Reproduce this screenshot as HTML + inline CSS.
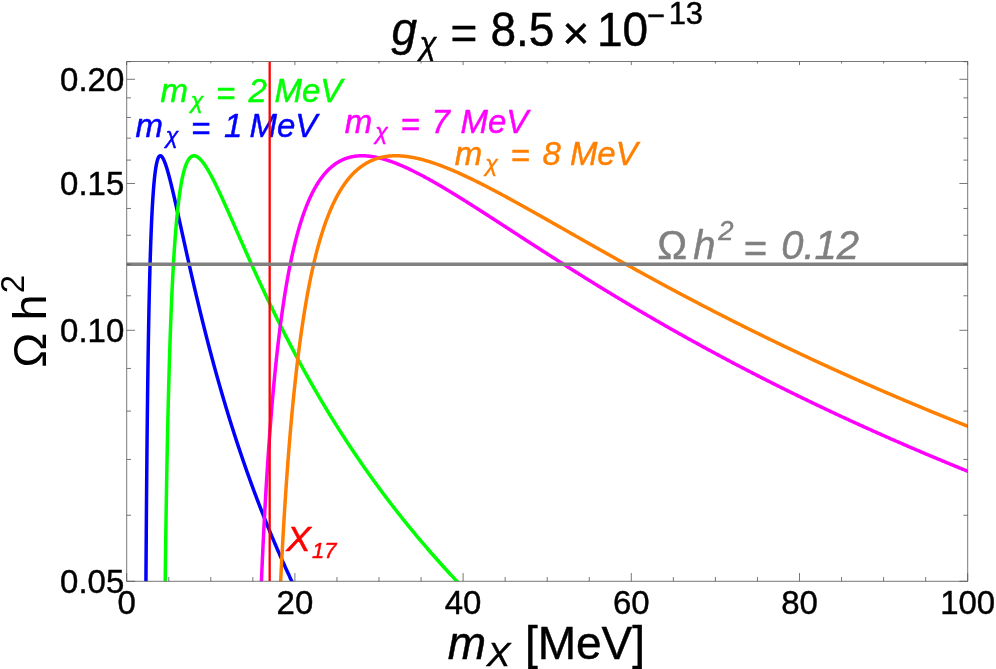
<!DOCTYPE html>
<html><head><meta charset="utf-8"><title>plot</title>
<style>html,body{margin:0;padding:0;background:#fff;overflow:hidden}svg{display:block;will-change:transform}text{font-family:"Liberation Sans",sans-serif;white-space:pre;stroke-width:0.45px;stroke-linejoin:round}</style></head><body>
<svg width="996" height="669" viewBox="0 0 996 669">
<defs><clipPath id="c"><rect x="126.70" y="61.50" width="841.00" height="519.80"/></clipPath></defs>
<g clip-path="url(#c)" fill="none" stroke-linejoin="round" stroke-linecap="butt">
<path d="M145.12 756.02 L145.16 744.94 L145.20 734.04 L145.24 723.32 L145.29 712.78 L145.33 702.40 L145.37 692.20 L145.42 682.16 L145.46 672.29 L145.51 662.58 L145.55 653.02 L145.60 643.62 L145.65 634.37 L145.69 625.27 L145.74 616.32 L145.79 607.51 L145.84 598.84 L145.89 590.31 L145.94 581.91 L145.99 573.65 L146.04 565.53 L146.10 557.53 L146.15 549.66 L146.20 541.92 L146.26 534.30 L146.31 526.80 L146.37 519.42 L146.42 512.16 L146.48 505.01 L146.53 497.98 L146.59 491.06 L146.65 484.26 L146.71 477.56 L146.77 470.97 L146.83 464.48 L146.89 458.10 L146.95 451.83 L147.01 445.65 L147.07 439.57 L147.14 433.60 L147.20 427.71 L147.26 421.93 L147.33 416.24 L147.39 410.64 L147.46 405.13 L147.53 399.71 L147.59 394.38 L147.66 389.14 L147.73 383.99 L147.80 378.92 L147.87 373.93 L147.94 369.03 L148.01 364.21 L148.08 359.47 L148.15 354.81 L148.22 350.23 L148.30 345.72 L148.37 341.29 L148.44 336.94 L148.52 332.66 L148.60 328.45 L148.67 324.32 L148.75 320.26 L148.83 316.26 L148.90 312.34 L148.98 308.49 L149.06 304.70 L149.14 300.98 L149.22 297.33 L149.30 293.74 L149.39 290.21 L149.47 286.75 L149.55 283.35 L149.64 280.02 L149.72 276.74 L149.81 273.52 L149.89 270.37 L149.98 267.27 L150.06 264.23 L150.15 261.24 L150.24 258.31 L150.33 255.44 L150.42 252.62 L150.51 249.86 L150.60 247.15 L150.69 244.50 L150.78 241.89 L150.88 239.34 L150.97 236.83 L151.06 234.38 L151.16 231.98 L151.25 229.62 L151.35 227.32 L151.44 225.06 L151.54 222.85 L151.64 220.68 L151.74 218.56 L151.84 216.49 L151.94 214.46 L152.04 212.48 L152.14 210.53 L152.24 208.64 L152.34 206.78 L152.45 204.96 L152.55 203.19 L152.65 201.46 L152.76 199.77 L152.86 198.12 L152.97 196.50 L153.08 194.93 L153.19 193.39 L153.29 191.90 L153.40 190.43 L153.51 189.01 L153.62 187.62 L153.73 186.27 L153.84 184.96 L153.96 183.68 L154.07 182.43 L154.18 181.22 L154.30 180.04 L154.41 178.89 L154.53 177.78 L154.64 176.70 L154.76 175.65 L154.88 174.64 L155.00 173.65 L155.12 172.70 L155.24 171.78 L155.36 170.88 L155.48 170.02 L155.60 169.18 L155.72 168.38 L155.84 167.60 L155.97 166.85 L156.09 166.13 L156.22 165.44 L156.34 164.77 L156.47 164.13 L156.59 163.51 L156.72 162.93 L156.85 162.36 L156.98 161.83 L157.11 161.32 L157.24 160.83 L157.37 160.37 L157.50 159.93 L157.63 159.52 L157.77 159.12 L157.90 158.76 L158.04 158.41 L158.17 158.09 L158.31 157.79 L158.44 157.51 L158.58 157.26 L158.72 157.02 L158.86 156.81 L159.00 156.61 L159.14 156.44 L159.28 156.29 L159.42 156.16 L159.56 156.05 L159.70 155.95 L159.85 155.88 L159.99 155.83 L160.13 155.79 L160.28 155.77 L160.43 155.78 L160.57 155.80 L160.72 155.83 L160.87 155.89 L161.02 155.96 L161.17 156.05 L161.32 156.16 L161.47 156.28 L161.62 156.42 L161.77 156.57 L161.92 156.75 L162.08 156.93 L162.23 157.14 L162.39 157.35 L162.54 157.59 L162.70 157.84 L162.86 158.10 L163.02 158.38 L163.17 158.67 L163.33 158.98 L163.49 159.30 L163.65 159.63 L163.82 159.98 L163.98 160.34 L164.14 160.72 L164.30 161.10 L164.47 161.50 L164.63 161.92 L164.80 162.34 L164.96 162.78 L165.13 163.23 L165.30 163.69 L165.47 164.17 L165.64 164.65 L165.81 165.15 L165.98 165.66 L166.15 166.18 L166.32 166.71 L166.49 167.25 L166.67 167.80 L166.84 168.37 L167.02 168.94 L167.19 169.52 L167.37 170.12 L167.55 170.72 L167.72 171.34 L167.90 171.96 L168.08 172.59 L168.26 173.24 L168.44 173.89 L168.62 174.55 L168.80 175.22 L168.99 175.90 L169.17 176.59 L169.35 177.29 L169.54 177.99 L169.73 178.71 L169.91 179.43 L170.10 180.16 L170.29 180.90 L170.48 181.64 L170.66 182.40 L170.85 183.16 L171.04 183.93 L171.24 184.71 L171.43 185.49 L171.62 186.28 L171.81 187.08 L172.01 187.89 L172.20 188.70 L172.40 189.52 L172.60 190.35 L172.79 191.18 L172.99 192.02 L173.19 192.87 L173.39 193.72 L173.59 194.58 L173.79 195.45 L173.99 196.32 L174.19 197.19 L174.40 198.08 L174.60 198.97 L174.81 199.86 L175.01 200.76 L175.22 201.67 L175.42 202.58 L175.63 203.50 L175.84 204.42 L176.05 205.35 L176.26 206.28 L176.47 207.22 L176.68 208.16 L176.89 209.11 L177.10 210.06 L177.32 211.02 L177.53 211.98 L177.75 212.94 L177.96 213.91 L178.18 214.89 L178.39 215.87 L178.61 216.85 L178.83 217.84 L179.05 218.83 L179.27 219.83 L179.49 220.83 L179.71 221.83 L179.93 222.84 L180.16 223.85 L180.38 224.87 L180.60 225.89 L180.83 226.91 L181.06 227.94 L181.28 228.97 L181.51 230.00 L181.74 231.04 L181.97 232.08 L182.20 233.12 L182.43 234.17 L182.66 235.22 L182.89 236.27 L183.12 237.33 L183.35 238.39 L183.59 239.45 L183.82 240.51 L184.06 241.58 L184.30 242.65 L184.53 243.73 L184.77 244.80 L185.01 245.88 L185.25 246.96 L185.49 248.05 L185.73 249.13 L185.97 250.22 L186.21 251.31 L186.46 252.40 L186.70 253.50 L186.94 254.60 L187.19 255.70 L187.44 256.80 L187.68 257.90 L187.93 259.01 L188.18 260.12 L188.43 261.23 L188.68 262.34 L188.93 263.46 L189.18 264.57 L189.43 265.69 L189.69 266.81 L189.94 267.93 L190.19 269.06 L190.45 270.18 L190.70 271.31 L190.96 272.44 L191.22 273.56 L191.48 274.70 L191.74 275.83 L192.00 276.96 L192.26 278.10 L192.52 279.24 L192.78 280.37 L193.04 281.51 L193.31 282.66 L193.57 283.80 L193.83 284.94 L194.10 286.09 L194.37 287.23 L194.63 288.38 L194.90 289.53 L195.17 290.68 L195.44 291.83 L195.71 292.98 L195.98 294.13 L196.25 295.28 L196.53 296.44 L196.80 297.59 L197.08 298.75 L197.35 299.90 L197.63 301.06 L197.90 302.22 L198.18 303.38 L198.46 304.54 L198.74 305.70 L199.02 306.86 L199.30 308.02 L199.58 309.19 L199.86 310.35 L200.14 311.51 L200.43 312.68 L200.71 313.84 L201.00 315.01 L201.28 316.17 L201.57 317.34 L201.86 318.51 L202.14 319.67 L202.43 320.84 L202.72 322.01 L203.01 323.18 L203.30 324.35 L203.60 325.52 L203.89 326.69 L204.18 327.86 L204.48 329.03 L204.77 330.20 L205.07 331.37 L205.36 332.54 L205.66 333.71 L205.96 334.88 L206.26 336.05 L206.56 337.22 L206.86 338.40 L207.16 339.57 L207.46 340.74 L207.77 341.91 L208.07 343.08 L208.37 344.26 L208.68 345.43 L208.99 346.60 L209.29 347.77 L209.60 348.94 L209.91 350.12 L210.22 351.29 L210.53 352.46 L210.84 353.63 L211.15 354.80 L211.46 355.98 L211.77 357.15 L212.09 358.32 L212.40 359.49 L212.72 360.66 L213.04 361.83 L213.35 363.00 L213.67 364.17 L213.99 365.34 L214.31 366.51 L214.63 367.68 L214.95 368.85 L215.27 370.02 L215.59 371.19 L215.92 372.36 L216.24 373.53 L216.57 374.70 L216.89 375.86 L217.22 377.03 L217.55 378.20 L217.87 379.37 L218.20 380.53 L218.53 381.70 L218.86 382.86 L219.19 384.03 L219.53 385.20 L219.86 386.36 L220.19 387.52 L220.53 388.69 L220.86 389.85 L221.20 391.01 L221.53 392.18 L221.87 393.34 L222.21 394.50 L222.55 395.66 L222.89 396.82 L223.23 397.98 L223.57 399.14 L223.91 400.30 L224.26 401.46 L224.60 402.61 L224.95 403.77 L225.29 404.93 L225.64 406.08 L225.99 407.24 L226.33 408.39 L226.68 409.55 L227.03 410.70 L227.38 411.86 L227.73 413.01 L228.08 414.16 L228.44 415.31 L228.79 416.46 L229.15 417.61 L229.50 418.76 L229.86 419.91 L230.21 421.06 L230.57 422.21 L230.93 423.35 L231.29 424.50 L231.65 425.65 L232.01 426.79 L232.37 427.93 L232.73 429.08 L233.10 430.22 L233.46 431.36 L233.83 432.50 L234.19 433.64 L234.56 434.78 L234.92 435.92 L235.29 437.06 L235.66 438.20 L236.03 439.34 L236.40 440.47 L236.77 441.61 L237.14 442.74 L237.52 443.88 L237.89 445.01 L238.27 446.14 L238.64 447.27 L239.02 448.40 L239.39 449.53 L239.77 450.66 L240.15 451.79 L240.53 452.92 L240.91 454.04 L241.29 455.17 L241.67 456.30 L242.06 457.42 L242.44 458.54 L242.82 459.67 L243.21 460.79 L243.59 461.91 L243.98 463.03 L244.37 464.15 L244.76 465.27 L245.15 466.39 L245.54 467.50 L245.93 468.62 L246.32 469.73 L246.71 470.85 L247.10 471.96 L247.50 473.07 L247.89 474.19 L248.29 475.30 L248.68 476.41 L249.08 477.52 L249.48 478.62 L249.88 479.73 L250.28 480.84 L250.68 481.94 L251.08 483.05 L251.48 484.15 L251.88 485.25 L252.29 486.36 L252.69 487.46 L253.10 488.56 L253.50 489.66 L253.91 490.76 L254.32 491.85 L254.73 492.95 L255.14 494.05 L255.55 495.14 L255.96 496.23 L256.37 497.33 L256.78 498.42 L257.20 499.51 L257.61 500.60 L258.03 501.69 L258.44 502.78 L258.86 503.87 L259.28 504.95 L259.70 506.04 L260.12 507.12 L260.54 508.21 L260.96 509.29 L261.38 510.37 L261.80 511.45 L262.23 512.53 L262.65 513.61 L263.08 514.69 L263.50 515.77 L263.93 516.84 L264.36 517.92 L264.78 518.99 L265.21 520.07 L265.64 521.14 L266.08 522.21 L266.51 523.28 L266.94 524.35 L267.37 525.42 L267.81 526.49 L268.24 527.56 L268.68 528.62 L269.12 529.69 L269.55 530.75 L269.99 531.81 L270.43 532.88 L270.87 533.94 L271.31 535.00 L271.75 536.06 L272.20 537.11 L272.64 538.17 L273.08 539.23 L273.53 540.28 L273.97 541.34 L274.42 542.39 L274.87 543.44 L275.32 544.50 L275.77 545.55 L276.22 546.60 L276.67 547.64 L277.12 548.69 L277.57 549.74 L278.03 550.78 L278.48 551.83 L278.93 552.87 L279.39 553.92 L279.85 554.96 L280.31 556.00 L280.76 557.04 L281.22 558.08 L281.68 559.12 L282.14 560.15 L282.61 561.19 L283.07 562.22 L283.53 563.26 L284.00 564.29 L284.46 565.32 L284.93 566.36 L285.39 567.39 L285.86 568.42 L286.33 569.44 L286.80 570.47 L287.27 571.50 L287.74 572.52 L288.21 573.55 L288.69 574.57 L289.16 575.59 L289.63 576.62 L290.11 577.64 L290.58 578.66 L291.06 579.67 L291.54 580.69 L292.02 581.71 L292.50 582.73 L292.98 583.74 L293.46 584.75 L293.94 585.77 L294.42 586.78 L294.91 587.79 L295.39 588.80 L295.88 589.81 L296.36 590.82 L296.85 591.82 L297.34 592.83 L297.83 593.84 L298.32 594.84 L298.81 595.84 L299.30 596.85 L299.79 597.85 L300.28 598.85 L300.78 599.85 L301.27 600.85 L301.77 601.84 L302.26 602.84 L302.76 603.84 L303.26 604.83 L303.76 605.82 L304.26 606.82 L304.76 607.81 L305.26 608.80 L305.76 609.79 L306.27 610.78 L306.77 611.77 L307.27 612.75 L307.78 613.74 L308.29 614.73 L308.79 615.71 L309.30 616.69 L309.81 617.68 L310.32 618.66 L310.83 619.64 L311.34 620.62 L311.86 621.60 L312.37 622.57 L312.88 623.55 L313.40 624.53 L313.91 625.50 L314.43 626.47 L314.95 627.45 L315.47 628.42 L315.99 629.39 L316.51 630.36 L317.03 631.33 L317.55 632.30 L318.07 633.27 L318.60 634.23 L319.12 635.20 L319.65 636.16 L320.17 637.13 L320.70 638.09 L321.23 639.05 L321.76 640.01 L322.29 640.97 L322.82 641.93 L323.35 642.89 L323.88 643.84 L324.41 644.80 L324.95 645.76 L325.48 646.71 L326.02 647.66 L326.55 648.62 L327.09 649.57 L327.63 650.52 L328.17 651.47 L328.71 652.42 L329.25 653.36 L329.79 654.31 L330.33 655.26 L330.88 656.20 L331.42 657.15 L331.97 658.09 L332.51 659.03 L333.06 659.97 L333.61 660.91 L334.15 661.85 L334.70 662.79 L335.25 663.73 L335.80 664.67 L336.36 665.60 L336.91 666.54 L337.46 667.47 L338.02 668.41 L338.57 669.34 L339.13 670.27 L339.69 671.20 L340.24 672.13 L340.80 673.06 L341.36 673.99 L341.92 674.91 L342.49 675.84 L343.05 676.77 L343.61 677.69 L344.18 678.61 L344.74 679.54 L345.31 680.46 L345.87 681.38 L346.44 682.30 L347.01 683.22 L347.58 684.13 L348.15 685.05 L348.72 685.97 L349.29 686.88 L349.86 687.80 L350.44 688.71 L351.01 689.62 L351.59 690.54 L352.16 691.45 L352.74 692.36 L353.32 693.27 L353.90 694.18 L354.48 695.08 L355.06 695.99 L355.64 696.90 L356.22 697.80 L356.80 698.70 L357.39 699.61 L357.97 700.51 L358.56 701.41 L359.15 702.31 L359.73 703.21 L360.32 704.11 L360.91 705.01 L361.50 705.91 L362.09 706.80 L362.68 707.70 L363.28 708.59 L363.87 709.49 L364.46 710.38 L365.06 711.27 L365.66 712.16 L366.25 713.05 L366.85 713.94 L367.45 714.83 L368.05 715.72 L368.65 716.61 L369.25 717.49 L369.85 718.38 L370.46 719.26 L371.06 720.14 L371.67 721.03 L372.27 721.91 L372.88 722.79 L373.49 723.67 L374.10 724.55 L374.71 725.43 L375.32 726.31 L375.93 727.18 L376.54 728.06 L377.15 728.93 L377.77 729.81 L378.38 730.68 L379.00 731.55 L379.61 732.43 L380.23 733.30 L380.85 734.17 L381.47 735.04 L382.09 735.91 L382.71 736.77 L383.33 737.64 L383.95 738.51 L384.58 739.37 L385.20 740.24 L385.82 741.10 L386.45 741.96 L387.08 742.82 L387.71 743.69 L388.33 744.55 L388.96 745.41 L389.59 746.26 L390.23 747.12 L390.86 747.98 L391.49 748.84 L392.13 749.69 L392.76 750.55 L393.40 751.40 L394.03 752.25 L394.67 753.11 L395.31 753.96 L395.95 754.81 L396.59 755.66 L397.23 756.51 L397.87 757.36 L398.51 758.20 L399.16 759.05 L399.80 759.90 L400.45 760.74 L401.10 761.59 L401.74 762.43 L402.39 763.27 L403.04 764.11 L403.69 764.96 L404.34 765.80" stroke="#0000ff" stroke-width="3.50"/>
<path d="M163.52 758.62 L163.58 750.55 L163.64 742.59 L163.70 734.72 L163.76 726.94 L163.82 719.25 L163.88 711.66 L163.95 704.16 L164.01 696.74 L164.07 689.41 L164.14 682.17 L164.20 675.02 L164.27 667.95 L164.33 660.96 L164.40 654.05 L164.46 647.23 L164.53 640.48 L164.60 633.82 L164.67 627.23 L164.74 620.72 L164.81 614.28 L164.88 607.92 L164.95 601.63 L165.02 595.42 L165.09 589.28 L165.17 583.20 L165.24 577.20 L165.31 571.27 L165.39 565.41 L165.46 559.62 L165.54 553.89 L165.62 548.23 L165.69 542.63 L165.77 537.10 L165.85 531.64 L165.93 526.23 L166.01 520.89 L166.09 515.61 L166.17 510.40 L166.25 505.24 L166.33 500.14 L166.42 495.10 L166.50 490.12 L166.58 485.20 L166.67 480.34 L166.75 475.53 L166.84 470.78 L166.93 466.08 L167.01 461.44 L167.10 456.85 L167.19 452.31 L167.28 447.83 L167.37 443.40 L167.46 439.03 L167.55 434.70 L167.64 430.42 L167.73 426.20 L167.82 422.02 L167.92 417.90 L168.01 413.82 L168.11 409.79 L168.20 405.81 L168.30 401.88 L168.39 397.99 L168.49 394.15 L168.59 390.35 L168.69 386.60 L168.79 382.90 L168.89 379.23 L168.99 375.62 L169.09 372.04 L169.19 368.51 L169.29 365.03 L169.39 361.58 L169.50 358.18 L169.60 354.81 L169.71 351.49 L169.81 348.21 L169.92 344.97 L170.02 341.77 L170.13 338.61 L170.24 335.49 L170.35 332.40 L170.46 329.36 L170.57 326.35 L170.68 323.38 L170.79 320.45 L170.90 317.55 L171.01 314.69 L171.13 311.87 L171.24 309.08 L171.36 306.33 L171.47 303.61 L171.59 300.93 L171.70 298.28 L171.82 295.67 L171.94 293.09 L172.06 290.54 L172.18 288.03 L172.30 285.55 L172.42 283.10 L172.54 280.68 L172.66 278.30 L172.78 275.95 L172.91 273.63 L173.03 271.34 L173.15 269.08 L173.28 266.85 L173.40 264.65 L173.53 262.48 L173.66 260.34 L173.79 258.23 L173.91 256.15 L174.04 254.10 L174.17 252.07 L174.30 250.08 L174.43 248.11 L174.57 246.17 L174.70 244.26 L174.83 242.37 L174.96 240.51 L175.10 238.68 L175.23 236.88 L175.37 235.10 L175.51 233.34 L175.64 231.62 L175.78 229.92 L175.92 228.24 L176.06 226.59 L176.20 224.96 L176.34 223.36 L176.48 221.78 L176.62 220.23 L176.76 218.70 L176.91 217.19 L177.05 215.71 L177.20 214.25 L177.34 212.81 L177.49 211.40 L177.63 210.01 L177.78 208.64 L177.93 207.29 L178.08 205.97 L178.23 204.67 L178.38 203.38 L178.53 202.12 L178.68 200.89 L178.83 199.67 L178.98 198.47 L179.14 197.30 L179.29 196.14 L179.45 195.00 L179.60 193.89 L179.76 192.79 L179.91 191.72 L180.07 190.66 L180.23 189.62 L180.39 188.60 L180.55 187.61 L180.71 186.63 L180.87 185.66 L181.03 184.72 L181.19 183.80 L181.36 182.89 L181.52 182.00 L181.68 181.13 L181.85 180.27 L182.02 179.44 L182.18 178.62 L182.35 177.82 L182.52 177.03 L182.69 176.27 L182.85 175.51 L183.02 174.78 L183.20 174.06 L183.37 173.36 L183.54 172.67 L183.71 172.00 L183.88 171.35 L184.06 170.71 L184.23 170.08 L184.41 169.48 L184.59 168.88 L184.76 168.31 L184.94 167.74 L185.12 167.19 L185.30 166.66 L185.48 166.14 L185.66 165.64 L185.84 165.15 L186.02 164.67 L186.20 164.21 L186.39 163.76 L186.57 163.32 L186.76 162.90 L186.94 162.49 L187.13 162.10 L187.31 161.72 L187.50 161.35 L187.69 160.99 L187.88 160.65 L188.07 160.32 L188.26 160.00 L188.45 159.70 L188.64 159.41 L188.83 159.13 L189.03 158.86 L189.22 158.60 L189.42 158.36 L189.61 158.12 L189.81 157.90 L190.00 157.69 L190.20 157.50 L190.40 157.31 L190.60 157.13 L190.80 156.97 L191.00 156.82 L191.20 156.67 L191.40 156.54 L191.61 156.42 L191.81 156.31 L192.01 156.21 L192.22 156.12 L192.42 156.04 L192.63 155.98 L192.84 155.92 L193.04 155.87 L193.25 155.83 L193.46 155.80 L193.67 155.78 L193.88 155.77 L194.09 155.77 L194.30 155.78 L194.52 155.80 L194.73 155.83 L194.94 155.87 L195.16 155.92 L195.37 155.97 L195.59 156.04 L195.81 156.11 L196.03 156.19 L196.24 156.28 L196.46 156.38 L196.68 156.49 L196.90 156.61 L197.12 156.73 L197.35 156.86 L197.57 157.01 L197.79 157.16 L198.02 157.31 L198.24 157.48 L198.47 157.65 L198.69 157.83 L198.92 158.02 L199.15 158.22 L199.38 158.42 L199.61 158.63 L199.84 158.85 L200.07 159.08 L200.30 159.31 L200.53 159.55 L200.77 159.80 L201.00 160.06 L201.23 160.32 L201.47 160.59 L201.71 160.86 L201.94 161.14 L202.18 161.43 L202.42 161.73 L202.66 162.03 L202.90 162.34 L203.14 162.66 L203.38 162.98 L203.62 163.31 L203.86 163.64 L204.11 163.98 L204.35 164.33 L204.59 164.68 L204.84 165.04 L205.09 165.40 L205.33 165.78 L205.58 166.15 L205.83 166.53 L206.08 166.92 L206.33 167.32 L206.58 167.72 L206.83 168.12 L207.08 168.53 L207.34 168.95 L207.59 169.37 L207.85 169.80 L208.10 170.23 L208.36 170.66 L208.61 171.11 L208.87 171.55 L209.13 172.01 L209.39 172.46 L209.65 172.93 L209.91 173.39 L210.17 173.87 L210.43 174.34 L210.69 174.83 L210.96 175.31 L211.22 175.80 L211.49 176.30 L211.75 176.80 L212.02 177.31 L212.29 177.81 L212.56 178.33 L212.82 178.85 L213.09 179.37 L213.36 179.90 L213.63 180.43 L213.91 180.96 L214.18 181.50 L214.45 182.05 L214.73 182.59 L215.00 183.15 L215.28 183.70 L215.55 184.26 L215.83 184.82 L216.11 185.39 L216.39 185.96 L216.67 186.54 L216.95 187.12 L217.23 187.70 L217.51 188.29 L217.79 188.87 L218.07 189.47 L218.36 190.07 L218.64 190.67 L218.93 191.27 L219.21 191.88 L219.50 192.49 L219.79 193.10 L220.08 193.72 L220.37 194.34 L220.66 194.96 L220.95 195.59 L221.24 196.22 L221.53 196.85 L221.82 197.49 L222.12 198.13 L222.41 198.77 L222.71 199.42 L223.00 200.07 L223.30 200.72 L223.60 201.37 L223.90 202.03 L224.20 202.69 L224.50 203.35 L224.80 204.02 L225.10 204.69 L225.40 205.36 L225.70 206.03 L226.01 206.71 L226.31 207.39 L226.62 208.07 L226.92 208.75 L227.23 209.44 L227.54 210.13 L227.85 210.82 L228.15 211.51 L228.46 212.21 L228.78 212.91 L229.09 213.61 L229.40 214.31 L229.71 215.02 L230.03 215.73 L230.34 216.44 L230.66 217.15 L230.97 217.87 L231.29 218.58 L231.61 219.30 L231.92 220.02 L232.24 220.75 L232.56 221.47 L232.88 222.20 L233.21 222.93 L233.53 223.66 L233.85 224.40 L234.18 225.13 L234.50 225.87 L234.83 226.61 L235.15 227.35 L235.48 228.09 L235.81 228.84 L236.13 229.58 L236.46 230.33 L236.79 231.08 L237.12 231.84 L237.46 232.59 L237.79 233.34 L238.12 234.10 L238.46 234.86 L238.79 235.62 L239.13 236.38 L239.46 237.15 L239.80 237.91 L240.14 238.68 L240.48 239.45 L240.82 240.22 L241.16 240.99 L241.50 241.76 L241.84 242.53 L242.18 243.31 L242.52 244.09 L242.87 244.86 L243.21 245.64 L243.56 246.43 L243.91 247.21 L244.25 247.99 L244.60 248.78 L244.95 249.56 L245.30 250.35 L245.65 251.14 L246.00 251.93 L246.35 252.72 L246.71 253.51 L247.06 254.31 L247.41 255.10 L247.77 255.90 L248.12 256.69 L248.48 257.49 L248.84 258.29 L249.20 259.09 L249.56 259.89 L249.92 260.70 L250.28 261.50 L250.64 262.30 L251.00 263.11 L251.36 263.92 L251.73 264.72 L252.09 265.53 L252.46 266.34 L252.82 267.15 L253.19 267.96 L253.56 268.77 L253.93 269.59 L254.30 270.40 L254.67 271.22 L255.04 272.03 L255.41 272.85 L255.78 273.66 L256.16 274.48 L256.53 275.30 L256.90 276.12 L257.28 276.94 L257.66 277.76 L258.03 278.58 L258.41 279.41 L258.79 280.23 L259.17 281.05 L259.55 281.88 L259.93 282.70 L260.31 283.53 L260.70 284.36 L261.08 285.18 L261.47 286.01 L261.85 286.84 L262.24 287.67 L262.62 288.50 L263.01 289.33 L263.40 290.16 L263.79 290.99 L264.18 291.82 L264.57 292.65 L264.96 293.49 L265.36 294.32 L265.75 295.15 L266.14 295.99 L266.54 296.82 L266.93 297.66 L267.33 298.49 L267.73 299.33 L268.13 300.17 L268.52 301.00 L268.92 301.84 L269.32 302.68 L269.73 303.52 L270.13 304.36 L270.53 305.19 L270.93 306.03 L271.34 306.87 L271.74 307.71 L272.15 308.55 L272.56 309.40 L272.97 310.24 L273.37 311.08 L273.78 311.92 L274.19 312.76 L274.60 313.60 L275.02 314.45 L275.43 315.29 L275.84 316.13 L276.26 316.98 L276.67 317.82 L277.09 318.66 L277.50 319.51 L277.92 320.35 L278.34 321.20 L278.76 322.04 L279.18 322.89 L279.60 323.73 L280.02 324.58 L280.44 325.42 L280.87 326.27 L281.29 327.11 L281.72 327.96 L282.14 328.81 L282.57 329.65 L283.00 330.50 L283.42 331.34 L283.85 332.19 L284.28 333.04 L284.71 333.88 L285.14 334.73 L285.58 335.58 L286.01 336.43 L286.44 337.27 L286.88 338.12 L287.31 338.97 L287.75 339.81 L288.19 340.66 L288.62 341.51 L289.06 342.36 L289.50 343.20 L289.94 344.05 L290.38 344.90 L290.82 345.75 L291.27 346.59 L291.71 347.44 L292.16 348.29 L292.60 349.14 L293.05 349.98 L293.49 350.83 L293.94 351.68 L294.39 352.53 L294.84 353.37 L295.29 354.22 L295.74 355.07 L296.19 355.92 L296.64 356.76 L297.10 357.61 L297.55 358.46 L298.01 359.30 L298.46 360.15 L298.92 361.00 L299.38 361.84 L299.84 362.69 L300.29 363.54 L300.75 364.38 L301.21 365.23 L301.68 366.08 L302.14 366.92 L302.60 367.77 L303.07 368.61 L303.53 369.46 L304.00 370.30 L304.46 371.15 L304.93 371.99 L305.40 372.84 L305.87 373.68 L306.34 374.53 L306.81 375.37 L307.28 376.22 L307.75 377.06 L308.23 377.91 L308.70 378.75 L309.17 379.59 L309.65 380.44 L310.13 381.28 L310.60 382.12 L311.08 382.97 L311.56 383.81 L312.04 384.65 L312.52 385.49 L313.00 386.34 L313.49 387.18 L313.97 388.02 L314.45 388.86 L314.94 389.70 L315.42 390.54 L315.91 391.38 L316.40 392.22 L316.88 393.06 L317.37 393.90 L317.86 394.74 L318.35 395.58 L318.85 396.42 L319.34 397.26 L319.83 398.10 L320.32 398.94 L320.82 399.78 L321.31 400.61 L321.81 401.45 L322.31 402.29 L322.81 403.12 L323.31 403.96 L323.81 404.80 L324.31 405.63 L324.81 406.47 L325.31 407.30 L325.81 408.14 L326.32 408.97 L326.82 409.81 L327.33 410.64 L327.83 411.48 L328.34 412.31 L328.85 413.14 L329.36 413.98 L329.87 414.81 L330.38 415.64 L330.89 416.47 L331.40 417.31 L331.91 418.14 L332.43 418.97 L332.94 419.80 L333.46 420.63 L333.98 421.46 L334.49 422.29 L335.01 423.12 L335.53 423.95 L336.05 424.78 L336.57 425.60 L337.09 426.43 L337.61 427.26 L338.14 428.09 L338.66 428.91 L339.19 429.74 L339.71 430.57 L340.24 431.39 L340.77 432.22 L341.29 433.04 L341.82 433.87 L342.35 434.69 L342.88 435.51 L343.42 436.34 L343.95 437.16 L344.48 437.98 L345.02 438.80 L345.55 439.63 L346.09 440.45 L346.62 441.27 L347.16 442.09 L347.70 442.91 L348.24 443.73 L348.78 444.55 L349.32 445.37 L349.86 446.19 L350.40 447.00 L350.95 447.82 L351.49 448.64 L352.04 449.46 L352.58 450.27 L353.13 451.09 L353.68 451.91 L354.23 452.72 L354.78 453.54 L355.33 454.35 L355.88 455.16 L356.43 455.98 L356.98 456.79 L357.54 457.60 L358.09 458.42 L358.65 459.23 L359.20 460.04 L359.76 460.85 L360.32 461.66 L360.88 462.47 L361.43 463.28 L362.00 464.09 L362.56 464.90 L363.12 465.71 L363.68 466.52 L364.25 467.32 L364.81 468.13 L365.38 468.94 L365.94 469.74 L366.51 470.55 L367.08 471.36 L367.65 472.16 L368.22 472.96 L368.79 473.77 L369.36 474.57 L369.93 475.38 L370.50 476.18 L371.08 476.98 L371.65 477.78 L372.23 478.58 L372.81 479.38 L373.38 480.18 L373.96 480.98 L374.54 481.78 L375.12 482.58 L375.70 483.38 L376.28 484.18 L376.87 484.98 L377.45 485.77 L378.03 486.57 L378.62 487.37 L379.20 488.16 L379.79 488.96 L380.38 489.75 L380.97 490.55 L381.56 491.34 L382.15 492.13 L382.74 492.93 L383.33 493.72 L383.92 494.51 L384.52 495.30 L385.11 496.09 L385.71 496.88 L386.30 497.67 L386.90 498.46 L387.50 499.25 L388.10 500.04 L388.70 500.83 L389.30 501.62 L389.90 502.40 L390.50 503.19 L391.11 503.98 L391.71 504.76 L392.32 505.55 L392.92 506.33 L393.53 507.12 L394.14 507.90 L394.74 508.68 L395.35 509.47 L395.96 510.25 L396.57 511.03 L397.19 511.81 L397.80 512.59 L398.41 513.37 L399.03 514.15 L399.64 514.93 L400.26 515.71 L400.88 516.49 L401.49 517.27 L402.11 518.05 L402.73 518.82 L403.35 519.60 L403.97 520.37 L404.60 521.15 L405.22 521.92 L405.84 522.70 L406.47 523.47 L407.09 524.25 L407.72 525.02 L408.35 525.79 L408.98 526.56 L409.60 527.34 L410.24 528.11 L410.87 528.88 L411.50 529.65 L412.13 530.42 L412.76 531.19 L413.40 531.95 L414.03 532.72 L414.67 533.49 L415.31 534.26 L415.94 535.02 L416.58 535.79 L417.22 536.55 L417.86 537.32 L418.50 538.08 L419.15 538.85 L419.79 539.61 L420.43 540.37 L421.08 541.14 L421.72 541.90 L422.37 542.66 L423.02 543.42 L423.67 544.18 L424.32 544.94 L424.97 545.70 L425.62 546.46 L426.27 547.22 L426.92 547.98 L427.57 548.73 L428.23 549.49 L428.88 550.25 L429.54 551.00 L430.20 551.76 L430.86 552.51 L431.51 553.27 L432.17 554.02 L432.83 554.77 L433.50 555.53 L434.16 556.28 L434.82 557.03 L435.49 557.78 L436.15 558.53 L436.82 559.28 L437.48 560.03 L438.15 560.78 L438.82 561.53 L439.49 562.28 L440.16 563.03 L440.83 563.78 L441.50 564.52 L442.17 565.27 L442.85 566.02 L443.52 566.76 L444.20 567.51 L444.87 568.25 L445.55 568.99 L446.23 569.74 L446.91 570.48 L447.59 571.22 L448.27 571.96 L448.95 572.71 L449.63 573.45 L450.32 574.19 L451.00 574.93 L451.68 575.67 L452.37 576.40 L453.06 577.14 L453.75 577.88 L454.43 578.62 L455.12 579.35 L455.81 580.09 L456.50 580.83 L457.20 581.56 L457.89 582.30 L458.58 583.03 L459.28 583.76 L459.97 584.50 L460.67 585.23 L461.37 585.96 L462.07 586.69 L462.77 587.43 L463.47 588.16 L464.17 588.89 L464.87 589.62 L465.57 590.34 L466.27 591.07 L466.98 591.80 L467.68 592.53 L468.39 593.26 L469.10 593.98 L469.81 594.71 L470.51 595.44 L471.22 596.16 L471.94 596.89 L472.65 597.61 L473.36 598.33 L474.07 599.06 L474.79 599.78 L475.50 600.50 L476.22 601.22 L476.93 601.94 L477.65 602.66 L478.37 603.38 L479.09 604.10 L479.81 604.82 L480.53 605.54 L481.25 606.26 L481.98 606.98 L482.70 607.70 L483.43 608.41 L484.15 609.13 L484.88 609.84 L485.61 610.56 L486.33 611.27 L487.06 611.99 L487.79 612.70 L488.53 613.41 L489.26 614.13 L489.99 614.84 L490.72 615.55 L491.46 616.26 L492.19 616.97 L492.93 617.68 L493.67 618.39 L494.41 619.10 L495.14 619.81 L495.88 620.52 L496.63 621.23 L497.37 621.93 L498.11 622.64 L498.85 623.35 L499.60 624.05 L500.34 624.76 L501.09 625.46 L501.84 626.17 L502.58 626.87 L503.33 627.58 L504.08 628.28 L504.83 628.98 L505.59 629.68 L506.34 630.38 L507.09 631.08 L507.85 631.78 L508.60 632.48 L509.36 633.18 L510.11 633.88 L510.87 634.58 L511.63 635.28 L512.39 635.98 L513.15 636.67 L513.91 637.37 L514.67 638.07 L515.44 638.76 L516.20 639.46 L516.97 640.15 L517.73 640.85 L518.50 641.54 L519.27 642.23 L520.04 642.92 L520.81 643.62 L521.58 644.31 L522.35 645.00 L523.12 645.69 L523.89 646.38 L524.67 647.07 L525.44 647.76 L526.22 648.45 L526.99 649.14 L527.77 649.82 L528.55 650.51 L529.33 651.20 L530.11 651.88 L530.89 652.57 L531.67 653.26 L532.45 653.94 L533.24 654.62 L534.02 655.31 L534.81 655.99 L535.60 656.67 L536.38 657.36 L537.17 658.04 L537.96 658.72 L538.75 659.40 L539.54 660.08 L540.33 660.76 L541.13 661.44 L541.92 662.12 L542.72 662.80 L543.51 663.48 L544.31 664.16 L545.10 664.83 L545.90 665.51 L546.70 666.19 L547.50 666.86 L548.30 667.54 L549.10 668.21 L549.91 668.89 L550.71 669.56 L551.52 670.23 L552.32 670.91 L553.13 671.58 L553.94 672.25 L554.74 672.92 L555.55 673.59 L556.36 674.26 L557.17 674.94 L557.99 675.60 L558.80 676.27 L559.61 676.94 L560.43 677.61 L561.24 678.28 L562.06 678.95 L562.88 679.61 L563.69 680.28 L564.51 680.95 L565.33 681.61 L566.15 682.28 L566.98 682.94 L567.80 683.60 L568.62 684.27 L569.45 684.93 L570.27 685.59 L571.10 686.26 L571.92 686.92 L572.75 687.58 L573.58 688.24 L574.41 688.90 L575.24 689.56 L576.07 690.22 L576.91 690.88 L577.74 691.54 L578.58 692.20 L579.41 692.85 L580.25 693.51 L581.08 694.17 L581.92 694.82 L582.76 695.48 L583.60 696.14 L584.44 696.79 L585.28 697.45 L586.13 698.10 L586.97 698.75 L587.81 699.41 L588.66 700.06 L589.51 700.71 L590.35 701.36 L591.20 702.01 L592.05 702.66 L592.90 703.32 L593.75 703.97 L594.60 704.61 L595.46 705.26 L596.31 705.91 L597.16 706.56 L598.02 707.21 L598.88 707.86 L599.73 708.50 L600.59 709.15 L601.45 709.79 L602.31 710.44 L603.17 711.09 L604.03 711.73 L604.90 712.37 L605.76 713.02 L606.62 713.66 L607.49 714.30 L608.36 714.95 L609.22 715.59 L610.09 716.23 L610.96 716.87 L611.83 717.51 L612.70 718.15 L613.57 718.79 L614.45 719.43 L615.32 720.07 L616.20 720.71 L617.07 721.35 L617.95 721.98 L618.83 722.62 L619.70 723.26 L620.58 723.89 L621.46 724.53 L622.34 725.16 L623.23 725.80 L624.11 726.43 L624.99 727.07 L625.88 727.70 L626.76 728.33 L627.65 728.97 L628.54 729.60 L629.43 730.23 L630.32 730.86 L631.21 731.49 L632.10 732.12 L632.99 732.75 L633.88 733.38 L634.78 734.01 L635.67 734.64 L636.57 735.27 L637.46 735.90 L638.36 736.53 L639.26 737.15 L640.16 737.78 L641.06 738.41 L641.96 739.03 L642.86 739.66 L643.77 740.28 L644.67 740.91 L645.57 741.53 L646.48 742.15 L647.39 742.78 L648.29 743.40 L649.20 744.02 L650.11 744.64 L651.02 745.27 L651.94 745.89 L652.85 746.51 L653.76 747.13 L654.68 747.75 L655.59 748.37 L656.51 748.99 L657.42 749.61 L658.34 750.22 L659.26 750.84 L660.18 751.46 L661.10 752.08 L662.02 752.69 L662.94 753.31 L663.87 753.92 L664.79 754.54 L665.72 755.15 L666.64 755.77 L667.57 756.38 L668.50 757.00 L669.43 757.61 L670.36 758.22 L671.29 758.83 L672.22 759.45 L673.15 760.06 L674.09 760.67 L675.02 761.28 L675.96 761.89 L676.89 762.50 L677.83 763.11 L678.77 763.72 L679.71 764.33 L680.65 764.94 L681.59 765.54 L682.53 766.15" stroke="#00ff00" stroke-width="3.50"/>
<path d="M255.39 766.12 L255.50 761.71 L255.61 757.33 L255.72 752.99 L255.83 748.67 L255.95 744.37 L256.06 740.11 L256.17 735.87 L256.28 731.66 L256.40 727.48 L256.51 723.32 L256.63 719.19 L256.74 715.09 L256.86 711.01 L256.98 706.96 L257.10 702.94 L257.21 698.94 L257.33 694.97 L257.45 691.02 L257.57 687.10 L257.69 683.20 L257.81 679.33 L257.94 675.48 L258.06 671.66 L258.18 667.86 L258.31 664.08 L258.43 660.33 L258.55 656.61 L258.68 652.90 L258.81 649.22 L258.93 645.56 L259.06 641.93 L259.19 638.32 L259.32 634.73 L259.45 631.17 L259.58 627.62 L259.71 624.10 L259.84 620.60 L259.97 617.13 L260.10 613.67 L260.23 610.24 L260.37 606.83 L260.50 603.44 L260.64 600.07 L260.77 596.72 L260.91 593.39 L261.04 590.09 L261.18 586.80 L261.32 583.54 L261.46 580.30 L261.60 577.07 L261.74 573.87 L261.88 570.69 L262.02 567.52 L262.16 564.38 L262.30 561.25 L262.44 558.15 L262.59 555.06 L262.73 552.00 L262.87 548.95 L263.02 545.92 L263.17 542.92 L263.31 539.93 L263.46 536.96 L263.61 534.00 L263.75 531.07 L263.90 528.15 L264.05 525.26 L264.20 522.38 L264.35 519.52 L264.51 516.67 L264.66 513.85 L264.81 511.04 L264.96 508.25 L265.12 505.48 L265.27 502.72 L265.43 499.98 L265.58 497.26 L265.74 494.56 L265.90 491.87 L266.05 489.20 L266.21 486.55 L266.37 483.91 L266.53 481.29 L266.69 478.69 L266.85 476.10 L267.01 473.53 L267.17 470.97 L267.34 468.43 L267.50 465.91 L267.66 463.40 L267.83 460.91 L267.99 458.44 L268.16 455.98 L268.33 453.53 L268.49 451.10 L268.66 448.69 L268.83 446.29 L269.00 443.91 L269.17 441.54 L269.34 439.19 L269.51 436.85 L269.68 434.52 L269.85 432.21 L270.03 429.92 L270.20 427.64 L270.37 425.38 L270.55 423.13 L270.73 420.89 L270.90 418.67 L271.08 416.46 L271.26 414.26 L271.43 412.08 L271.61 409.92 L271.79 407.77 L271.97 405.63 L272.15 403.50 L272.33 401.39 L272.51 399.30 L272.70 397.21 L272.88 395.14 L273.06 393.08 L273.25 391.04 L273.43 389.01 L273.62 386.99 L273.81 384.99 L273.99 383.00 L274.18 381.02 L274.37 379.05 L274.56 377.10 L274.75 375.16 L274.94 373.23 L275.13 371.31 L275.32 369.41 L275.51 367.52 L275.71 365.64 L275.90 363.78 L276.09 361.92 L276.29 360.08 L276.48 358.25 L276.68 356.44 L276.88 354.63 L277.07 352.84 L277.27 351.05 L277.47 349.28 L277.67 347.53 L277.87 345.78 L278.07 344.05 L278.27 342.32 L278.47 340.61 L278.68 338.91 L278.88 337.22 L279.08 335.54 L279.29 333.88 L279.49 332.22 L279.70 330.58 L279.91 328.94 L280.11 327.32 L280.32 325.71 L280.53 324.11 L280.74 322.52 L280.95 320.94 L281.16 319.37 L281.37 317.81 L281.58 316.27 L281.80 314.73 L282.01 313.20 L282.22 311.69 L282.44 310.18 L282.65 308.69 L282.87 307.20 L283.09 305.73 L283.30 304.26 L283.52 302.81 L283.74 301.37 L283.96 299.93 L284.18 298.51 L284.40 297.09 L284.62 295.69 L284.84 294.29 L285.07 292.91 L285.29 291.54 L285.51 290.17 L285.74 288.81 L285.96 287.47 L286.19 286.13 L286.41 284.80 L286.64 283.49 L286.87 282.18 L287.10 280.88 L287.33 279.59 L287.56 278.31 L287.79 277.04 L288.02 275.77 L288.25 274.52 L288.48 273.28 L288.72 272.04 L288.95 270.81 L289.19 269.60 L289.42 268.39 L289.66 267.19 L289.89 266.00 L290.13 264.81 L290.37 263.64 L290.61 262.48 L290.85 261.32 L291.09 260.17 L291.33 259.03 L291.57 257.90 L291.81 256.78 L292.05 255.67 L292.30 254.56 L292.54 253.46 L292.79 252.37 L293.03 251.29 L293.28 250.22 L293.52 249.15 L293.77 248.10 L294.02 247.05 L294.27 246.01 L294.52 244.98 L294.77 243.95 L295.02 242.93 L295.27 241.92 L295.52 240.92 L295.78 239.93 L296.03 238.94 L296.28 237.97 L296.54 237.00 L296.79 236.03 L297.05 235.08 L297.31 234.13 L297.56 233.19 L297.82 232.26 L298.08 231.33 L298.34 230.41 L298.60 229.50 L298.86 228.60 L299.12 227.71 L299.39 226.82 L299.65 225.94 L299.91 225.06 L300.18 224.19 L300.44 223.33 L300.71 222.48 L300.98 221.63 L301.24 220.80 L301.51 219.96 L301.78 219.14 L302.05 218.32 L302.32 217.51 L302.59 216.70 L302.86 215.91 L303.13 215.12 L303.41 214.33 L303.68 213.55 L303.95 212.78 L304.23 212.02 L304.50 211.26 L304.78 210.51 L305.06 209.77 L305.33 209.03 L305.61 208.30 L305.89 207.57 L306.17 206.85 L306.45 206.14 L306.73 205.43 L307.02 204.73 L307.30 204.04 L307.58 203.35 L307.86 202.67 L308.15 202.00 L308.43 201.33 L308.72 200.66 L309.01 200.01 L309.29 199.36 L309.58 198.71 L309.87 198.07 L310.16 197.44 L310.45 196.81 L310.74 196.19 L311.03 195.58 L311.32 194.97 L311.62 194.37 L311.91 193.77 L312.21 193.18 L312.50 192.59 L312.80 192.01 L313.09 191.44 L313.39 190.87 L313.69 190.30 L313.99 189.75 L314.29 189.19 L314.59 188.65 L314.89 188.11 L315.19 187.57 L315.49 187.04 L315.79 186.52 L316.09 186.00 L316.40 185.48 L316.70 184.97 L317.01 184.47 L317.32 183.97 L317.62 183.48 L317.93 182.99 L318.24 182.51 L318.55 182.03 L318.86 181.56 L319.17 181.09 L319.48 180.63 L319.79 180.18 L320.10 179.72 L320.42 179.28 L320.73 178.84 L321.04 178.40 L321.36 177.97 L321.68 177.54 L321.99 177.12 L322.31 176.70 L322.63 176.29 L322.95 175.88 L323.27 175.48 L323.59 175.08 L323.91 174.69 L324.23 174.30 L324.55 173.92 L324.88 173.54 L325.20 173.17 L325.52 172.80 L325.85 172.43 L326.18 172.07 L326.50 171.72 L326.83 171.37 L327.16 171.02 L327.49 170.68 L327.82 170.34 L328.15 170.01 L328.48 169.68 L328.81 169.35 L329.14 169.03 L329.47 168.72 L329.81 168.41 L330.14 168.10 L330.48 167.80 L330.81 167.50 L331.15 167.21 L331.49 166.92 L331.83 166.63 L332.17 166.35 L332.50 166.07 L332.85 165.80 L333.19 165.53 L333.53 165.27 L333.87 165.01 L334.21 164.75 L334.56 164.50 L334.90 164.25 L335.25 164.01 L335.59 163.77 L335.94 163.53 L336.29 163.30 L336.64 163.07 L336.98 162.85 L337.33 162.62 L337.68 162.41 L338.04 162.20 L338.39 161.99 L338.74 161.78 L339.09 161.58 L339.45 161.38 L339.80 161.19 L340.16 161.00 L340.51 160.81 L340.87 160.63 L341.23 160.45 L341.58 160.28 L341.94 160.10 L342.30 159.94 L342.66 159.77 L343.02 159.61 L343.39 159.45 L343.75 159.30 L344.11 159.15 L344.48 159.00 L344.84 158.86 L345.21 158.72 L345.57 158.58 L345.94 158.45 L346.31 158.32 L346.68 158.20 L347.05 158.07 L347.41 157.95 L347.79 157.84 L348.16 157.73 L348.53 157.62 L348.90 157.51 L349.27 157.41 L349.65 157.31 L350.02 157.21 L350.40 157.12 L350.78 157.03 L351.15 156.95 L351.53 156.86 L351.91 156.78 L352.29 156.71 L352.67 156.63 L353.05 156.56 L353.43 156.50 L353.81 156.43 L354.20 156.37 L354.58 156.31 L354.96 156.26 L355.35 156.21 L355.73 156.16 L356.12 156.11 L356.51 156.07 L356.90 156.03 L357.29 155.99 L357.67 155.96 L358.06 155.93 L358.46 155.90 L358.85 155.87 L359.24 155.85 L359.63 155.83 L360.03 155.81 L360.42 155.80 L360.82 155.79 L361.21 155.78 L361.61 155.78 L362.01 155.77 L362.41 155.77 L362.80 155.78 L363.20 155.78 L363.61 155.79 L364.01 155.80 L364.41 155.82 L364.81 155.83 L365.21 155.85 L365.62 155.87 L366.02 155.90 L366.43 155.92 L366.84 155.95 L367.24 155.99 L367.65 156.02 L368.06 156.06 L368.47 156.10 L368.88 156.14 L369.29 156.19 L369.70 156.23 L370.11 156.28 L370.53 156.34 L370.94 156.39 L371.35 156.45 L371.77 156.51 L372.19 156.57 L372.60 156.64 L373.02 156.70 L373.44 156.77 L373.86 156.85 L374.28 156.92 L374.70 157.00 L375.12 157.08 L375.54 157.16 L375.96 157.24 L376.39 157.33 L376.81 157.42 L377.24 157.51 L377.66 157.60 L378.09 157.70 L378.51 157.79 L378.94 157.89 L379.37 158.00 L379.80 158.10 L380.23 158.21 L380.66 158.32 L381.09 158.43 L381.53 158.54 L381.96 158.65 L382.39 158.77 L382.83 158.89 L383.26 159.01 L383.70 159.14 L384.13 159.26 L384.57 159.39 L385.01 159.52 L385.45 159.65 L385.89 159.79 L386.33 159.92 L386.77 160.06 L387.21 160.20 L387.66 160.35 L388.10 160.49 L388.54 160.64 L388.99 160.78 L389.43 160.93 L389.88 161.09 L390.33 161.24 L390.78 161.40 L391.22 161.56 L391.67 161.72 L392.12 161.88 L392.58 162.04 L393.03 162.21 L393.48 162.38 L393.93 162.54 L394.39 162.72 L394.84 162.89 L395.30 163.06 L395.75 163.24 L396.21 163.42 L396.67 163.60 L397.13 163.78 L397.59 163.97 L398.05 164.15 L398.51 164.34 L398.97 164.53 L399.43 164.72 L399.89 164.92 L400.36 165.11 L400.82 165.31 L401.29 165.50 L401.75 165.70 L402.22 165.91 L402.69 166.11 L403.16 166.31 L403.63 166.52 L404.10 166.73 L404.57 166.94 L405.04 167.15 L405.51 167.36 L405.98 167.58 L406.46 167.80 L406.93 168.01 L407.41 168.23 L407.88 168.46 L408.36 168.68 L408.84 168.90 L409.31 169.13 L409.79 169.36 L410.27 169.59 L410.75 169.82 L411.23 170.05 L411.72 170.28 L412.20 170.52 L412.68 170.75 L413.17 170.99 L413.65 171.23 L414.14 171.47 L414.62 171.72 L415.11 171.96 L415.60 172.21 L416.09 172.45 L416.58 172.70 L417.07 172.95 L417.56 173.20 L418.05 173.46 L418.54 173.71 L419.04 173.97 L419.53 174.22 L420.02 174.48 L420.52 174.74 L421.02 175.00 L421.51 175.26 L422.01 175.53 L422.51 175.79 L423.01 176.06 L423.51 176.33 L424.01 176.60 L424.51 176.87 L425.01 177.14 L425.52 177.41 L426.02 177.69 L426.53 177.96 L427.03 178.24 L427.54 178.52 L428.05 178.80 L428.55 179.08 L429.06 179.36 L429.57 179.64 L430.08 179.93 L430.59 180.21 L431.10 180.50 L431.62 180.79 L432.13 181.08 L432.64 181.37 L433.16 181.66 L433.67 181.96 L434.19 182.25 L434.71 182.54 L435.23 182.84 L435.74 183.14 L436.26 183.44 L436.78 183.74 L437.30 184.04 L437.83 184.34 L438.35 184.65 L438.87 184.95 L439.40 185.26 L439.92 185.56 L440.45 185.87 L440.97 186.18 L441.50 186.49 L442.03 186.80 L442.56 187.11 L443.08 187.43 L443.61 187.74 L444.15 188.06 L444.68 188.37 L445.21 188.69 L445.74 189.01 L446.28 189.33 L446.81 189.65 L447.35 189.97 L447.88 190.29 L448.42 190.62 L448.96 190.94 L449.50 191.27 L450.04 191.59 L450.58 191.92 L451.12 192.25 L451.66 192.58 L452.20 192.91 L452.74 193.24 L453.29 193.58 L453.83 193.91 L454.38 194.24 L454.93 194.58 L455.47 194.92 L456.02 195.25 L456.57 195.59 L457.12 195.93 L457.67 196.27 L458.22 196.61 L458.77 196.95 L459.32 197.30 L459.88 197.64 L460.43 197.99 L460.99 198.33 L461.54 198.68 L462.10 199.02 L462.66 199.37 L463.21 199.72 L463.77 200.07 L464.33 200.42 L464.89 200.77 L465.45 201.13 L466.01 201.48 L466.58 201.83 L467.14 202.19 L467.70 202.54 L468.27 202.90 L468.84 203.26 L469.40 203.62 L469.97 203.97 L470.54 204.33 L471.11 204.69 L471.68 205.06 L472.25 205.42 L472.82 205.78 L473.39 206.14 L473.96 206.51 L474.54 206.87 L475.11 207.24 L475.69 207.61 L476.26 207.97 L476.84 208.34 L477.42 208.71 L477.99 209.08 L478.57 209.45 L479.15 209.82 L479.73 210.19 L480.31 210.57 L480.90 210.94 L481.48 211.31 L482.06 211.69 L482.65 212.06 L483.23 212.44 L483.82 212.82 L484.41 213.19 L484.99 213.57 L485.58 213.95 L486.17 214.33 L486.76 214.71 L487.35 215.09 L487.94 215.47 L488.54 215.85 L489.13 216.24 L489.72 216.62 L490.32 217.01 L490.91 217.39 L491.51 217.78 L492.11 218.16 L492.70 218.55 L493.30 218.93 L493.90 219.32 L494.50 219.71 L495.10 220.10 L495.70 220.49 L496.31 220.88 L496.91 221.27 L497.51 221.66 L498.12 222.05 L498.73 222.45 L499.33 222.84 L499.94 223.23 L500.55 223.63 L501.16 224.02 L501.77 224.42 L502.38 224.82 L502.99 225.21 L503.60 225.61 L504.21 226.01 L504.83 226.41 L505.44 226.80 L506.06 227.20 L506.67 227.60 L507.29 228.00 L507.91 228.41 L508.52 228.81 L509.14 229.21 L509.76 229.61 L510.38 230.01 L511.01 230.42 L511.63 230.82 L512.25 231.23 L512.87 231.63 L513.50 232.04 L514.12 232.44 L514.75 232.85 L515.38 233.26 L516.01 233.67 L516.63 234.07 L517.26 234.48 L517.89 234.89 L518.53 235.30 L519.16 235.71 L519.79 236.12 L520.42 236.53 L521.06 236.94 L521.69 237.36 L522.33 237.77 L522.96 238.18 L523.60 238.59 L524.24 239.01 L524.88 239.42 L525.52 239.84 L526.16 240.25 L526.80 240.67 L527.44 241.08 L528.09 241.50 L528.73 241.91 L529.37 242.33 L530.02 242.75 L530.67 243.17 L531.31 243.59 L531.96 244.00 L532.61 244.42 L533.26 244.84 L533.91 245.26 L534.56 245.68 L535.21 246.10 L535.86 246.53 L536.52 246.95 L537.17 247.37 L537.82 247.79 L538.48 248.21 L539.14 248.64 L539.79 249.06 L540.45 249.48 L541.11 249.91 L541.77 250.33 L542.43 250.76 L543.09 251.18 L543.75 251.61 L544.42 252.03 L545.08 252.46 L545.75 252.89 L546.41 253.31 L547.08 253.74 L547.74 254.17 L548.41 254.60 L549.08 255.03 L549.75 255.45 L550.42 255.88 L551.09 256.31 L551.76 256.74 L552.43 257.17 L553.11 257.60 L553.78 258.03 L554.46 258.46 L555.13 258.89 L555.81 259.33 L556.49 259.76 L557.16 260.19 L557.84 260.62 L558.52 261.06 L559.20 261.49 L559.88 261.92 L560.57 262.36 L561.25 262.79 L561.93 263.22 L562.62 263.66 L563.30 264.09 L563.99 264.53 L564.68 264.96 L565.36 265.40 L566.05 265.84 L566.74 266.27 L567.43 266.71 L568.12 267.14 L568.81 267.58 L569.51 268.02 L570.20 268.46 L570.89 268.89 L571.59 269.33 L572.29 269.77 L572.98 270.21 L573.68 270.65 L574.38 271.09 L575.08 271.53 L575.78 271.96 L576.48 272.40 L577.18 272.84 L577.88 273.28 L578.58 273.73 L579.29 274.17 L579.99 274.61 L580.70 275.05 L581.40 275.49 L582.11 275.93 L582.82 276.37 L583.53 276.81 L584.24 277.26 L584.95 277.70 L585.66 278.14 L586.37 278.58 L587.08 279.03 L587.80 279.47 L588.51 279.91 L589.23 280.36 L589.94 280.80 L590.66 281.25 L591.38 281.69 L592.10 282.14 L592.82 282.58 L593.54 283.02 L594.26 283.47 L594.98 283.91 L595.70 284.36 L596.42 284.81 L597.15 285.25 L597.87 285.70 L598.60 286.14 L599.32 286.59 L600.05 287.04 L600.78 287.48 L601.51 287.93 L602.24 288.38 L602.97 288.82 L603.70 289.27 L604.43 289.72 L605.17 290.17 L605.90 290.61 L606.63 291.06 L607.37 291.51 L608.11 291.96 L608.84 292.41 L609.58 292.86 L610.32 293.31 L611.06 293.75 L611.80 294.20 L612.54 294.65 L613.28 295.10 L614.03 295.55 L614.77 296.00 L615.51 296.45 L616.26 296.90 L617.01 297.35 L617.75 297.80 L618.50 298.25 L619.25 298.70 L620.00 299.15 L620.75 299.60 L621.50 300.05 L622.25 300.50 L623.00 300.96 L623.76 301.41 L624.51 301.86 L625.27 302.31 L626.02 302.76 L626.78 303.21 L627.54 303.66 L628.30 304.12 L629.05 304.57 L629.81 305.02 L630.57 305.47 L631.34 305.92 L632.10 306.38 L632.86 306.83 L633.63 307.28 L634.39 307.74 L635.16 308.19 L635.92 308.64 L636.69 309.09 L637.46 309.55 L638.23 310.00 L639.00 310.45 L639.77 310.91 L640.54 311.36 L641.31 311.81 L642.09 312.27 L642.86 312.72 L643.63 313.18 L644.41 313.63 L645.19 314.08 L645.96 314.54 L646.74 314.99 L647.52 315.45 L648.30 315.90 L649.08 316.35 L649.86 316.81 L650.64 317.26 L651.43 317.72 L652.21 318.17 L652.99 318.63 L653.78 319.08 L654.57 319.54 L655.35 319.99 L656.14 320.45 L656.93 320.90 L657.72 321.36 L658.51 321.81 L659.30 322.27 L660.09 322.72 L660.89 323.18 L661.68 323.63 L662.47 324.09 L663.27 324.54 L664.07 325.00 L664.86 325.45 L665.66 325.91 L666.46 326.37 L667.26 326.82 L668.06 327.28 L668.86 327.73 L669.66 328.19 L670.46 328.65 L671.27 329.10 L672.07 329.56 L672.88 330.01 L673.68 330.47 L674.49 330.93 L675.30 331.38 L676.11 331.84 L676.92 332.29 L677.73 332.75 L678.54 333.21 L679.35 333.66 L680.16 334.12 L680.97 334.58 L681.79 335.03 L682.60 335.49 L683.42 335.94 L684.24 336.40 L685.05 336.86 L685.87 337.31 L686.69 337.77 L687.51 338.23 L688.33 338.68 L689.15 339.14 L689.98 339.60 L690.80 340.05 L691.62 340.51 L692.45 340.97 L693.28 341.42 L694.10 341.88 L694.93 342.34 L695.76 342.79 L696.59 343.25 L697.42 343.71 L698.25 344.16 L699.08 344.62 L699.91 345.08 L700.75 345.53 L701.58 345.99 L702.42 346.45 L703.25 346.90 L704.09 347.36 L704.93 347.82 L705.76 348.27 L706.60 348.73 L707.44 349.19 L708.28 349.64 L709.13 350.10 L709.97 350.56 L710.81 351.01 L711.66 351.47 L712.50 351.93 L713.35 352.38 L714.19 352.84 L715.04 353.30 L715.89 353.75 L716.74 354.21 L717.59 354.66 L718.44 355.12 L719.29 355.58 L720.14 356.03 L721.00 356.49 L721.85 356.95 L722.71 357.40 L723.56 357.86 L724.42 358.32 L725.28 358.77 L726.13 359.23 L726.99 359.69 L727.85 360.14 L728.71 360.60 L729.58 361.05 L730.44 361.51 L731.30 361.97 L732.17 362.42 L733.03 362.88 L733.90 363.34 L734.76 363.79 L735.63 364.25 L736.50 364.70 L737.37 365.16 L738.24 365.62 L739.11 366.07 L739.98 366.53 L740.85 366.98 L741.73 367.44 L742.60 367.89 L743.48 368.35 L744.35 368.81 L745.23 369.26 L746.11 369.72 L746.99 370.17 L747.86 370.63 L748.74 371.08 L749.63 371.54 L750.51 371.99 L751.39 372.45 L752.27 372.90 L753.16 373.36 L754.04 373.82 L754.93 374.27 L755.82 374.73 L756.70 375.18 L757.59 375.64 L758.48 376.09 L759.37 376.55 L760.26 377.00 L761.15 377.46 L762.05 377.91 L762.94 378.36 L763.84 378.82 L764.73 379.27 L765.63 379.73 L766.52 380.18 L767.42 380.64 L768.32 381.09 L769.22 381.55 L770.12 382.00 L771.02 382.45 L771.92 382.91 L772.83 383.36 L773.73 383.82 L774.63 384.27 L775.54 384.72 L776.44 385.18 L777.35 385.63 L778.26 386.09 L779.17 386.54 L780.08 386.99 L780.99 387.45 L781.90 387.90 L782.81 388.35 L783.72 388.81 L784.64 389.26 L785.55 389.71 L786.47 390.17 L787.38 390.62 L788.30 391.07 L789.22 391.53 L790.14 391.98 L791.06 392.43 L791.98 392.88 L792.90 393.34 L793.82 393.79 L794.75 394.24 L795.67 394.69 L796.59 395.15 L797.52 395.60 L798.45 396.05 L799.37 396.50 L800.30 396.95 L801.23 397.41 L802.16 397.86 L803.09 398.31 L804.02 398.76 L804.95 399.21 L805.89 399.66 L806.82 400.12 L807.76 400.57 L808.69 401.02 L809.63 401.47 L810.57 401.92 L811.51 402.37 L812.44 402.82 L813.38 403.27 L814.32 403.73 L815.27 404.18 L816.21 404.63 L817.15 405.08 L818.10 405.53 L819.04 405.98 L819.99 406.43 L820.93 406.88 L821.88 407.33 L822.83 407.78 L823.78 408.23 L824.73 408.68 L825.68 409.13 L826.63 409.58 L827.59 410.03 L828.54 410.48 L829.49 410.93 L830.45 411.38 L831.40 411.82 L832.36 412.27 L833.32 412.72 L834.28 413.17 L835.24 413.62 L836.20 414.07 L837.16 414.52 L838.12 414.97 L839.08 415.42 L840.05 415.86 L841.01 416.31 L841.98 416.76 L842.94 417.21 L843.91 417.66 L844.88 418.10 L845.85 418.55 L846.82 419.00 L847.79 419.45 L848.76 419.89 L849.73 420.34 L850.71 420.79 L851.68 421.24 L852.65 421.68 L853.63 422.13 L854.61 422.58 L855.58 423.02 L856.56 423.47 L857.54 423.92 L858.52 424.36 L859.50 424.81 L860.48 425.26 L861.47 425.70 L862.45 426.15 L863.43 426.60 L864.42 427.04 L865.41 427.49 L866.39 427.93 L867.38 428.38 L868.37 428.82 L869.36 429.27 L870.35 429.71 L871.34 430.16 L872.33 430.60 L873.32 431.05 L874.32 431.49 L875.31 431.94 L876.31 432.38 L877.30 432.83 L878.30 433.27 L879.30 433.72 L880.30 434.16 L881.30 434.60 L882.30 435.05 L883.30 435.49 L884.30 435.94 L885.30 436.38 L886.31 436.82 L887.31 437.27 L888.32 437.71 L889.32 438.15 L890.33 438.60 L891.34 439.04 L892.35 439.48 L893.36 439.92 L894.37 440.37 L895.38 440.81 L896.39 441.25 L897.41 441.69 L898.42 442.14 L899.44 442.58 L900.45 443.02 L901.47 443.46 L902.49 443.90 L903.51 444.34 L904.53 444.79 L905.55 445.23 L906.57 445.67 L907.59 446.11 L908.61 446.55 L909.63 446.99 L910.66 447.43 L911.68 447.87 L912.71 448.31 L913.74 448.75 L914.77 449.19 L915.79 449.63 L916.82 450.07 L917.86 450.51 L918.89 450.95 L919.92 451.39 L920.95 451.83 L921.99 452.27 L923.02 452.71 L924.06 453.15 L925.09 453.59 L926.13 454.03 L927.17 454.47 L928.21 454.91 L929.25 455.34 L930.29 455.78 L931.33 456.22 L932.37 456.66 L933.42 457.10 L934.46 457.54 L935.51 457.97 L936.55 458.41 L937.60 458.85 L938.65 459.29 L939.70 459.72 L940.75 460.16 L941.80 460.60 L942.85 461.03 L943.90 461.47 L944.95 461.91 L946.01 462.34 L947.06 462.78 L948.12 463.22 L949.17 463.65 L950.23 464.09 L951.29 464.53 L952.35 464.96 L953.41 465.40 L954.47 465.83 L955.53 466.27 L956.59 466.70 L957.65 467.14 L958.72 467.57 L959.78 468.01 L960.85 468.44 L961.92 468.88 L962.98 469.31 L964.05 469.75 L965.12 470.18 L966.19 470.61 L967.26 471.05 L968.34 471.48 L969.41 471.92 L970.48 472.35 L971.56 472.78 L972.63 473.22 L973.71 473.65 L974.79 474.08 L975.86 474.52 L976.94 474.95 L978.02 475.38 L979.10 475.81 L980.19 476.25 L981.27 476.68 L982.35 477.11 L983.43 477.54 L984.52 477.97" stroke="#ff00ff" stroke-width="3.50"/>
<path d="M273.86 763.23 L273.98 759.14 L274.09 755.08 L274.21 751.04 L274.33 747.03 L274.45 743.04 L274.57 739.07 L274.69 735.13 L274.81 731.22 L274.93 727.32 L275.05 723.45 L275.18 719.60 L275.30 715.78 L275.42 711.98 L275.55 708.20 L275.67 704.44 L275.80 700.71 L275.93 697.00 L276.05 693.31 L276.18 689.64 L276.31 686.00 L276.44 682.37 L276.57 678.77 L276.69 675.19 L276.83 671.63 L276.96 668.09 L277.09 664.57 L277.22 661.08 L277.35 657.60 L277.49 654.14 L277.62 650.71 L277.75 647.29 L277.89 643.90 L278.03 640.52 L278.16 637.17 L278.30 633.83 L278.44 630.51 L278.58 627.22 L278.71 623.94 L278.85 620.68 L278.99 617.44 L279.13 614.22 L279.28 611.02 L279.42 607.84 L279.56 604.68 L279.70 601.53 L279.85 598.40 L279.99 595.30 L280.14 592.20 L280.28 589.13 L280.43 586.08 L280.57 583.04 L280.72 580.02 L280.87 577.02 L281.02 574.04 L281.17 571.07 L281.32 568.12 L281.47 565.19 L281.62 562.28 L281.77 559.38 L281.92 556.50 L282.07 553.63 L282.23 550.78 L282.38 547.95 L282.54 545.14 L282.69 542.34 L282.85 539.56 L283.00 536.79 L283.16 534.04 L283.32 531.31 L283.48 528.59 L283.64 525.89 L283.80 523.21 L283.96 520.54 L284.12 517.88 L284.28 515.24 L284.44 512.62 L284.60 510.01 L284.77 507.42 L284.93 504.84 L285.10 502.28 L285.26 499.73 L285.43 497.19 L285.59 494.68 L285.76 492.17 L285.93 489.68 L286.10 487.21 L286.27 484.75 L286.44 482.30 L286.61 479.87 L286.78 477.45 L286.95 475.05 L287.12 472.66 L287.29 470.29 L287.47 467.93 L287.64 465.58 L287.81 463.25 L287.99 460.93 L288.17 458.62 L288.34 456.33 L288.52 454.05 L288.70 451.78 L288.88 449.53 L289.05 447.29 L289.23 445.06 L289.41 442.85 L289.59 440.65 L289.78 438.46 L289.96 436.29 L290.14 434.13 L290.32 431.98 L290.51 429.85 L290.69 427.72 L290.88 425.61 L291.06 423.51 L291.25 421.43 L291.44 419.36 L291.63 417.29 L291.82 415.25 L292.00 413.21 L292.19 411.19 L292.38 409.17 L292.58 407.17 L292.77 405.18 L292.96 403.21 L293.15 401.24 L293.35 399.29 L293.54 397.35 L293.74 395.42 L293.93 393.50 L294.13 391.59 L294.32 389.70 L294.52 387.82 L294.72 385.94 L294.92 384.08 L295.12 382.23 L295.32 380.39 L295.52 378.57 L295.72 376.75 L295.92 374.94 L296.12 373.15 L296.33 371.37 L296.53 369.59 L296.74 367.83 L296.94 366.08 L297.15 364.34 L297.35 362.61 L297.56 360.89 L297.77 359.18 L297.98 357.48 L298.19 355.79 L298.39 354.12 L298.61 352.45 L298.82 350.79 L299.03 349.14 L299.24 347.51 L299.45 345.88 L299.67 344.26 L299.88 342.66 L300.10 341.06 L300.31 339.47 L300.53 337.90 L300.74 336.33 L300.96 334.77 L301.18 333.22 L301.40 331.69 L301.62 330.16 L301.84 328.64 L302.06 327.13 L302.28 325.63 L302.50 324.14 L302.73 322.66 L302.95 321.19 L303.17 319.72 L303.40 318.27 L303.62 316.83 L303.85 315.39 L304.08 313.96 L304.30 312.55 L304.53 311.14 L304.76 309.74 L304.99 308.35 L305.22 306.97 L305.45 305.60 L305.68 304.24 L305.91 302.88 L306.14 301.54 L306.38 300.20 L306.61 298.87 L306.85 297.55 L307.08 296.24 L307.32 294.94 L307.55 293.64 L307.79 292.36 L308.03 291.08 L308.27 289.81 L308.51 288.55 L308.75 287.30 L308.99 286.05 L309.23 284.82 L309.47 283.59 L309.71 282.37 L309.96 281.16 L310.20 279.95 L310.44 278.76 L310.69 277.57 L310.93 276.39 L311.18 275.22 L311.43 274.06 L311.68 272.90 L311.92 271.75 L312.17 270.61 L312.42 269.48 L312.67 268.35 L312.93 267.24 L313.18 266.13 L313.43 265.02 L313.68 263.93 L313.94 262.84 L314.19 261.76 L314.45 260.69 L314.70 259.63 L314.96 258.57 L315.22 257.52 L315.47 256.47 L315.73 255.44 L315.99 254.41 L316.25 253.39 L316.51 252.37 L316.77 251.37 L317.03 250.37 L317.30 249.37 L317.56 248.39 L317.82 247.41 L318.09 246.44 L318.35 245.47 L318.62 244.51 L318.89 243.56 L319.15 242.62 L319.42 241.68 L319.69 240.75 L319.96 239.83 L320.23 238.91 L320.50 238.00 L320.77 237.09 L321.04 236.20 L321.32 235.31 L321.59 234.42 L321.86 233.54 L322.14 232.67 L322.41 231.81 L322.69 230.95 L322.97 230.10 L323.24 229.25 L323.52 228.41 L323.80 227.58 L324.08 226.75 L324.36 225.93 L324.64 225.12 L324.92 224.31 L325.20 223.51 L325.49 222.71 L325.77 221.92 L326.05 221.14 L326.34 220.36 L326.62 219.59 L326.91 218.82 L327.20 218.06 L327.49 217.31 L327.77 216.56 L328.06 215.82 L328.35 215.08 L328.64 214.35 L328.93 213.63 L329.23 212.91 L329.52 212.19 L329.81 211.49 L330.10 210.79 L330.40 210.09 L330.69 209.40 L330.99 208.71 L331.29 208.04 L331.58 207.36 L331.88 206.69 L332.18 206.03 L332.48 205.37 L332.78 204.72 L333.08 204.08 L333.38 203.44 L333.68 202.80 L333.99 202.17 L334.29 201.55 L334.59 200.93 L334.90 200.31 L335.20 199.70 L335.51 199.10 L335.82 198.50 L336.12 197.91 L336.43 197.32 L336.74 196.74 L337.05 196.16 L337.36 195.59 L337.67 195.02 L337.98 194.46 L338.30 193.90 L338.61 193.35 L338.92 192.80 L339.24 192.26 L339.55 191.72 L339.87 191.19 L340.18 190.66 L340.50 190.14 L340.82 189.62 L341.14 189.11 L341.46 188.60 L341.78 188.09 L342.10 187.60 L342.42 187.10 L342.74 186.61 L343.06 186.13 L343.39 185.65 L343.71 185.17 L344.04 184.70 L344.36 184.23 L344.69 183.77 L345.02 183.32 L345.34 182.86 L345.67 182.41 L346.00 181.97 L346.33 181.53 L346.66 181.10 L346.99 180.67 L347.32 180.24 L347.66 179.82 L347.99 179.40 L348.32 178.99 L348.66 178.58 L348.99 178.18 L349.33 177.78 L349.67 177.38 L350.00 176.99 L350.34 176.60 L350.68 176.22 L351.02 175.84 L351.36 175.47 L351.70 175.10 L352.04 174.73 L352.38 174.37 L352.73 174.01 L353.07 173.66 L353.42 173.31 L353.76 172.96 L354.11 172.62 L354.45 172.28 L354.80 171.95 L355.15 171.62 L355.50 171.29 L355.85 170.97 L356.20 170.65 L356.55 170.34 L356.90 170.03 L357.25 169.72 L357.60 169.42 L357.96 169.12 L358.31 168.83 L358.67 168.54 L359.02 168.25 L359.38 167.96 L359.74 167.68 L360.09 167.41 L360.45 167.14 L360.81 166.87 L361.17 166.60 L361.53 166.34 L361.89 166.08 L362.26 165.83 L362.62 165.58 L362.98 165.33 L363.35 165.09 L363.71 164.85 L364.08 164.61 L364.44 164.38 L364.81 164.15 L365.18 163.92 L365.55 163.70 L365.92 163.48 L366.29 163.26 L366.66 163.05 L367.03 162.84 L367.40 162.64 L367.77 162.44 L368.15 162.24 L368.52 162.04 L368.90 161.85 L369.27 161.66 L369.65 161.47 L370.03 161.29 L370.40 161.11 L370.78 160.94 L371.16 160.77 L371.54 160.60 L371.92 160.43 L372.30 160.27 L372.68 160.11 L373.07 159.95 L373.45 159.80 L373.84 159.65 L374.22 159.50 L374.61 159.35 L374.99 159.21 L375.38 159.08 L375.77 158.94 L376.16 158.81 L376.54 158.68 L376.93 158.55 L377.33 158.43 L377.72 158.31 L378.11 158.19 L378.50 158.08 L378.90 157.97 L379.29 157.86 L379.68 157.75 L380.08 157.65 L380.48 157.55 L380.87 157.46 L381.27 157.36 L381.67 157.27 L382.07 157.18 L382.47 157.10 L382.87 157.02 L383.27 156.94 L383.67 156.86 L384.08 156.78 L384.48 156.71 L384.88 156.64 L385.29 156.58 L385.70 156.51 L386.10 156.45 L386.51 156.40 L386.92 156.34 L387.33 156.29 L387.74 156.24 L388.15 156.19 L388.56 156.15 L388.97 156.10 L389.38 156.06 L389.79 156.03 L390.21 155.99 L390.62 155.96 L391.04 155.93 L391.45 155.90 L391.87 155.88 L392.29 155.86 L392.71 155.84 L393.12 155.82 L393.54 155.81 L393.96 155.80 L394.39 155.79 L394.81 155.78 L395.23 155.78 L395.65 155.77 L396.08 155.77 L396.50 155.78 L396.93 155.78 L397.35 155.79 L397.78 155.80 L398.21 155.81 L398.64 155.82 L399.06 155.84 L399.49 155.86 L399.92 155.88 L400.36 155.91 L400.79 155.93 L401.22 155.96 L401.65 155.99 L402.09 156.02 L402.52 156.06 L402.96 156.09 L403.40 156.13 L403.83 156.18 L404.27 156.22 L404.71 156.27 L405.15 156.31 L405.59 156.36 L406.03 156.42 L406.47 156.47 L406.91 156.53 L407.36 156.59 L407.80 156.65 L408.24 156.71 L408.69 156.77 L409.13 156.84 L409.58 156.91 L410.03 156.98 L410.48 157.06 L410.93 157.13 L411.38 157.21 L411.83 157.29 L412.28 157.37 L412.73 157.45 L413.18 157.54 L413.63 157.62 L414.09 157.71 L414.54 157.81 L415.00 157.90 L415.45 157.99 L415.91 158.09 L416.37 158.19 L416.83 158.29 L417.29 158.39 L417.75 158.50 L418.21 158.60 L418.67 158.71 L419.13 158.82 L419.59 158.94 L420.06 159.05 L420.52 159.16 L420.99 159.28 L421.45 159.40 L421.92 159.52 L422.39 159.65 L422.85 159.77 L423.32 159.90 L423.79 160.03 L424.26 160.16 L424.73 160.29 L425.21 160.42 L425.68 160.56 L426.15 160.69 L426.62 160.83 L427.10 160.97 L427.58 161.12 L428.05 161.26 L428.53 161.41 L429.01 161.55 L429.48 161.70 L429.96 161.85 L430.44 162.01 L430.92 162.16 L431.41 162.31 L431.89 162.47 L432.37 162.63 L432.85 162.79 L433.34 162.95 L433.82 163.12 L434.31 163.28 L434.80 163.45 L435.28 163.62 L435.77 163.79 L436.26 163.96 L436.75 164.13 L437.24 164.31 L437.73 164.48 L438.22 164.66 L438.72 164.84 L439.21 165.02 L439.70 165.20 L440.20 165.39 L440.69 165.57 L441.19 165.76 L441.69 165.95 L442.18 166.14 L442.68 166.33 L443.18 166.52 L443.68 166.71 L444.18 166.91 L444.68 167.11 L445.19 167.30 L445.69 167.50 L446.19 167.70 L446.70 167.91 L447.20 168.11 L447.71 168.32 L448.22 168.52 L448.72 168.73 L449.23 168.94 L449.74 169.15 L450.25 169.36 L450.76 169.58 L451.27 169.79 L451.78 170.01 L452.30 170.22 L452.81 170.44 L453.33 170.66 L453.84 170.88 L454.36 171.11 L454.87 171.33 L455.39 171.56 L455.91 171.78 L456.43 172.01 L456.95 172.24 L457.47 172.47 L457.99 172.70 L458.51 172.93 L459.03 173.17 L459.56 173.40 L460.08 173.64 L460.60 173.88 L461.13 174.12 L461.66 174.36 L462.18 174.60 L462.71 174.84 L463.24 175.08 L463.77 175.33 L464.30 175.58 L464.83 175.82 L465.36 176.07 L465.89 176.32 L466.43 176.57 L466.96 176.82 L467.50 177.08 L468.03 177.33 L468.57 177.58 L469.10 177.84 L469.64 178.10 L470.18 178.36 L470.72 178.62 L471.26 178.88 L471.80 179.14 L472.34 179.40 L472.88 179.67 L473.43 179.93 L473.97 180.20 L474.52 180.46 L475.06 180.73 L475.61 181.00 L476.15 181.27 L476.70 181.54 L477.25 181.82 L477.80 182.09 L478.35 182.36 L478.90 182.64 L479.45 182.92 L480.00 183.19 L480.56 183.47 L481.11 183.75 L481.66 184.03 L482.22 184.31 L482.77 184.60 L483.33 184.88 L483.89 185.16 L484.45 185.45 L485.01 185.74 L485.57 186.02 L486.13 186.31 L486.69 186.60 L487.25 186.89 L487.81 187.18 L488.38 187.47 L488.94 187.77 L489.51 188.06 L490.07 188.36 L490.64 188.65 L491.21 188.95 L491.77 189.25 L492.34 189.54 L492.91 189.84 L493.48 190.14 L494.05 190.45 L494.63 190.75 L495.20 191.05 L495.77 191.35 L496.35 191.66 L496.92 191.96 L497.50 192.27 L498.07 192.58 L498.65 192.88 L499.23 193.19 L499.81 193.50 L500.39 193.81 L500.97 194.13 L501.55 194.44 L502.13 194.75 L502.71 195.06 L503.30 195.38 L503.88 195.69 L504.47 196.01 L505.05 196.33 L505.64 196.64 L506.23 196.96 L506.81 197.28 L507.40 197.60 L507.99 197.92 L508.58 198.24 L509.17 198.57 L509.77 198.89 L510.36 199.21 L510.95 199.54 L511.55 199.86 L512.14 200.19 L512.74 200.52 L513.33 200.84 L513.93 201.17 L514.53 201.50 L515.13 201.83 L515.73 202.16 L516.33 202.49 L516.93 202.82 L517.53 203.16 L518.13 203.49 L518.74 203.82 L519.34 204.16 L519.95 204.49 L520.55 204.83 L521.16 205.17 L521.77 205.50 L522.38 205.84 L522.98 206.18 L523.59 206.52 L524.20 206.86 L524.82 207.20 L525.43 207.54 L526.04 207.89 L526.65 208.23 L527.27 208.57 L527.88 208.92 L528.50 209.26 L529.12 209.61 L529.73 209.95 L530.35 210.30 L530.97 210.64 L531.59 210.99 L532.21 211.34 L532.83 211.69 L533.45 212.04 L534.08 212.39 L534.70 212.74 L535.33 213.09 L535.95 213.44 L536.58 213.80 L537.20 214.15 L537.83 214.50 L538.46 214.86 L539.09 215.21 L539.72 215.57 L540.35 215.92 L540.98 216.28 L541.61 216.64 L542.25 217.00 L542.88 217.35 L543.51 217.71 L544.15 218.07 L544.78 218.43 L545.42 218.79 L546.06 219.15 L546.70 219.51 L547.34 219.88 L547.98 220.24 L548.62 220.60 L549.26 220.97 L549.90 221.33 L550.54 221.69 L551.19 222.06 L551.83 222.43 L552.48 222.79 L553.13 223.16 L553.77 223.53 L554.42 223.89 L555.07 224.26 L555.72 224.63 L556.37 225.00 L557.02 225.37 L557.67 225.74 L558.32 226.11 L558.98 226.48 L559.63 226.85 L560.29 227.22 L560.94 227.60 L561.60 227.97 L562.25 228.34 L562.91 228.72 L563.57 229.09 L564.23 229.47 L564.89 229.84 L565.55 230.22 L566.21 230.59 L566.88 230.97 L567.54 231.35 L568.20 231.72 L568.87 232.10 L569.54 232.48 L570.20 232.86 L570.87 233.24 L571.54 233.62 L572.21 234.00 L572.88 234.38 L573.55 234.76 L574.22 235.14 L574.89 235.52 L575.56 235.90 L576.24 236.29 L576.91 236.67 L577.59 237.05 L578.26 237.44 L578.94 237.82 L579.62 238.20 L580.30 238.59 L580.97 238.98 L581.65 239.36 L582.34 239.75 L583.02 240.13 L583.70 240.52 L584.38 240.91 L585.07 241.29 L585.75 241.68 L586.44 242.07 L587.12 242.46 L587.81 242.85 L588.50 243.24 L589.19 243.63 L589.88 244.02 L590.57 244.41 L591.26 244.80 L591.95 245.19 L592.64 245.58 L593.33 245.97 L594.03 246.36 L594.72 246.76 L595.42 247.15 L596.12 247.54 L596.81 247.94 L597.51 248.33 L598.21 248.72 L598.91 249.12 L599.61 249.51 L600.31 249.91 L601.01 250.30 L601.72 250.70 L602.42 251.09 L603.13 251.49 L603.83 251.89 L604.54 252.28 L605.24 252.68 L605.95 253.08 L606.66 253.48 L607.37 253.87 L608.08 254.27 L608.79 254.67 L609.50 255.07 L610.21 255.47 L610.93 255.87 L611.64 256.27 L612.36 256.67 L613.07 257.07 L613.79 257.47 L614.51 257.87 L615.22 258.27 L615.94 258.67 L616.66 259.08 L617.38 259.48 L618.10 259.88 L618.83 260.28 L619.55 260.69 L620.27 261.09 L621.00 261.49 L621.72 261.90 L622.45 262.30 L623.17 262.70 L623.90 263.11 L624.63 263.51 L625.36 263.92 L626.09 264.32 L626.82 264.73 L627.55 265.13 L628.28 265.54 L629.02 265.95 L629.75 266.35 L630.48 266.76 L631.22 267.16 L631.96 267.57 L632.69 267.98 L633.43 268.39 L634.17 268.79 L634.91 269.20 L635.65 269.61 L636.39 270.02 L637.13 270.43 L637.88 270.84 L638.62 271.24 L639.36 271.65 L640.11 272.06 L640.85 272.47 L641.60 272.88 L642.35 273.29 L643.10 273.70 L643.85 274.11 L644.60 274.52 L645.35 274.93 L646.10 275.35 L646.85 275.76 L647.60 276.17 L648.36 276.58 L649.11 276.99 L649.87 277.40 L650.62 277.81 L651.38 278.23 L652.14 278.64 L652.90 279.05 L653.66 279.47 L654.42 279.88 L655.18 280.29 L655.94 280.70 L656.70 281.12 L657.47 281.53 L658.23 281.95 L659.00 282.36 L659.76 282.77 L660.53 283.19 L661.30 283.60 L662.07 284.02 L662.83 284.43 L663.60 284.85 L664.37 285.26 L665.15 285.68 L665.92 286.09 L666.69 286.51 L667.47 286.93 L668.24 287.34 L669.02 287.76 L669.79 288.17 L670.57 288.59 L671.35 289.01 L672.13 289.42 L672.91 289.84 L673.69 290.26 L674.47 290.67 L675.25 291.09 L676.03 291.51 L676.82 291.93 L677.60 292.34 L678.39 292.76 L679.17 293.18 L679.96 293.60 L680.75 294.02 L681.54 294.43 L682.33 294.85 L683.12 295.27 L683.91 295.69 L684.70 296.11 L685.49 296.53 L686.28 296.95 L687.08 297.37 L687.87 297.78 L688.67 298.20 L689.47 298.62 L690.26 299.04 L691.06 299.46 L691.86 299.88 L692.66 300.30 L693.46 300.72 L694.26 301.14 L695.06 301.56 L695.87 301.98 L696.67 302.40 L697.48 302.82 L698.28 303.25 L699.09 303.67 L699.89 304.09 L700.70 304.51 L701.51 304.93 L702.32 305.35 L703.13 305.77 L703.94 306.19 L704.75 306.61 L705.57 307.04 L706.38 307.46 L707.20 307.88 L708.01 308.30 L708.83 308.72 L709.64 309.14 L710.46 309.57 L711.28 309.99 L712.10 310.41 L712.92 310.83 L713.74 311.25 L714.56 311.68 L715.38 312.10 L716.21 312.52 L717.03 312.94 L717.86 313.37 L718.68 313.79 L719.51 314.21 L720.34 314.64 L721.17 315.06 L721.99 315.48 L722.82 315.91 L723.65 316.33 L724.49 316.75 L725.32 317.17 L726.15 317.60 L726.99 318.02 L727.82 318.44 L728.66 318.87 L729.49 319.29 L730.33 319.72 L731.17 320.14 L732.01 320.56 L732.85 320.99 L733.69 321.41 L734.53 321.83 L735.37 322.26 L736.21 322.68 L737.06 323.11 L737.90 323.53 L738.75 323.95 L739.59 324.38 L740.44 324.80 L741.29 325.23 L742.14 325.65 L742.99 326.08 L743.84 326.50 L744.69 326.93 L745.54 327.35 L746.39 327.77 L747.25 328.20 L748.10 328.62 L748.95 329.05 L749.81 329.47 L750.67 329.90 L751.53 330.32 L752.38 330.75 L753.24 331.17 L754.10 331.60 L754.96 332.02 L755.83 332.45 L756.69 332.87 L757.55 333.30 L758.42 333.72 L759.28 334.15 L760.15 334.57 L761.01 335.00 L761.88 335.42 L762.75 335.85 L763.62 336.27 L764.49 336.70 L765.36 337.12 L766.23 337.55 L767.10 337.97 L767.98 338.40 L768.85 338.82 L769.73 339.25 L770.60 339.67 L771.48 340.10 L772.36 340.52 L773.23 340.95 L774.11 341.37 L774.99 341.80 L775.87 342.22 L776.75 342.65 L777.64 343.07 L778.52 343.50 L779.40 343.92 L780.29 344.35 L781.17 344.78 L782.06 345.20 L782.95 345.63 L783.84 346.05 L784.72 346.48 L785.61 346.90 L786.50 347.33 L787.40 347.75 L788.29 348.18 L789.18 348.60 L790.07 349.03 L790.97 349.45 L791.87 349.88 L792.76 350.30 L793.66 350.73 L794.56 351.15 L795.46 351.58 L796.35 352.01 L797.26 352.43 L798.16 352.86 L799.06 353.28 L799.96 353.71 L800.87 354.13 L801.77 354.56 L802.68 354.98 L803.58 355.41 L804.49 355.83 L805.40 356.26 L806.30 356.68 L807.21 357.11 L808.12 357.53 L809.04 357.96 L809.95 358.38 L810.86 358.81 L811.77 359.23 L812.69 359.66 L813.60 360.08 L814.52 360.51 L815.44 360.93 L816.35 361.36 L817.27 361.78 L818.19 362.21 L819.11 362.63 L820.03 363.06 L820.96 363.48 L821.88 363.91 L822.80 364.33 L823.73 364.76 L824.65 365.18 L825.58 365.60 L826.51 366.03 L827.43 366.45 L828.36 366.88 L829.29 367.30 L830.22 367.73 L831.15 368.15 L832.08 368.58 L833.02 369.00 L833.95 369.42 L834.88 369.85 L835.82 370.27 L836.76 370.70 L837.69 371.12 L838.63 371.55 L839.57 371.97 L840.51 372.39 L841.45 372.82 L842.39 373.24 L843.33 373.67 L844.27 374.09 L845.22 374.51 L846.16 374.94 L847.11 375.36 L848.05 375.79 L849.00 376.21 L849.95 376.63 L850.90 377.06 L851.85 377.48 L852.80 377.90 L853.75 378.33 L854.70 378.75 L855.65 379.17 L856.61 379.60 L857.56 380.02 L858.51 380.44 L859.47 380.87 L860.43 381.29 L861.39 381.71 L862.34 382.14 L863.30 382.56 L864.26 382.98 L865.22 383.40 L866.19 383.83 L867.15 384.25 L868.11 384.67 L869.08 385.10 L870.04 385.52 L871.01 385.94 L871.98 386.36 L872.94 386.79 L873.91 387.21 L874.88 387.63 L875.85 388.05 L876.82 388.48 L877.79 388.90 L878.77 389.32 L879.74 389.74 L880.71 390.16 L881.69 390.59 L882.67 391.01 L883.64 391.43 L884.62 391.85 L885.60 392.27 L886.58 392.69 L887.56 393.12 L888.54 393.54 L889.52 393.96 L890.50 394.38 L891.49 394.80 L892.47 395.22 L893.46 395.64 L894.44 396.06 L895.43 396.49 L896.42 396.91 L897.41 397.33 L898.40 397.75 L899.39 398.17 L900.38 398.59 L901.37 399.01 L902.36 399.43 L903.36 399.85 L904.35 400.27 L905.35 400.69 L906.34 401.11 L907.34 401.53 L908.34 401.95 L909.34 402.37 L910.34 402.79 L911.34 403.21 L912.34 403.63 L913.34 404.05 L914.34 404.47 L915.35 404.89 L916.35 405.31 L917.36 405.73 L918.36 406.15 L919.37 406.57 L920.38 406.99 L921.39 407.41 L922.40 407.83 L923.41 408.25 L924.42 408.67 L925.43 409.08 L926.44 409.50 L927.46 409.92 L928.47 410.34 L929.49 410.76 L930.50 411.18 L931.52 411.60 L932.54 412.01 L933.56 412.43 L934.58 412.85 L935.60 413.27 L936.62 413.69 L937.64 414.11 L938.67 414.52 L939.69 414.94 L940.71 415.36 L941.74 415.78 L942.77 416.19 L943.79 416.61 L944.82 417.03 L945.85 417.45 L946.88 417.86 L947.91 418.28 L948.94 418.70 L949.98 419.11 L951.01 419.53 L952.04 419.95 L953.08 420.36 L954.11 420.78 L955.15 421.20 L956.19 421.61 L957.23 422.03 L958.27 422.45 L959.31 422.86 L960.35 423.28 L961.39 423.69 L962.43 424.11 L963.47 424.53 L964.52 424.94 L965.56 425.36 L966.61 425.77 L967.66 426.19 L968.70 426.60 L969.75 427.02 L970.80 427.43 L971.85 427.85 L972.90 428.26 L973.95 428.68 L975.01 429.09 L976.06 429.51 L977.12 429.92 L978.17 430.34 L979.23 430.75 L980.28 431.17 L981.34 431.58 L982.40 431.99 L983.46 432.41 L984.52 432.82" stroke="#ff8000" stroke-width="3.50"/>
</g>
<text x="160.45" y="102.10" font-size="33.00" font-style="italic" fill="#00ff00" stroke="#00ff00">m</text>
<text x="190.87" y="108.10" font-size="23.00" font-style="italic" fill="#00ff00" stroke="#00ff00">χ</text>
<text x="216.01" y="104.90" font-size="33.00" font-style="italic" fill="#00ff00" stroke="#00ff00">=</text>
<text x="248.59" y="102.10" font-size="33.00" font-style="italic" fill="#00ff00" stroke="#00ff00">2</text>
<text x="274.48" y="102.10" font-size="33.00" font-style="italic" fill="#00ff00" stroke="#00ff00">MeV</text>
<text x="135.45" y="137.10" font-size="33.00" font-style="italic" fill="#0000ff" stroke="#0000ff">m</text>
<text x="165.87" y="143.10" font-size="23.00" font-style="italic" fill="#0000ff" stroke="#0000ff">χ</text>
<text x="191.01" y="139.90" font-size="33.00" font-style="italic" fill="#0000ff" stroke="#0000ff">=</text>
<text x="223.95" y="137.10" font-size="33.00" font-style="italic" fill="#0000ff" stroke="#0000ff">1</text>
<text x="249.48" y="137.10" font-size="33.00" font-style="italic" fill="#0000ff" stroke="#0000ff">MeV</text>
<text x="344.85" y="133.10" font-size="33.00" font-style="italic" fill="#ff00ff" stroke="#ff00ff">m</text>
<text x="375.27" y="139.10" font-size="23.00" font-style="italic" fill="#ff00ff" stroke="#ff00ff">χ</text>
<text x="400.41" y="135.90" font-size="33.00" font-style="italic" fill="#ff00ff" stroke="#ff00ff">=</text>
<text x="431.58" y="133.10" font-size="33.00" font-style="italic" fill="#ff00ff" stroke="#ff00ff">7</text>
<text x="460.48" y="133.10" font-size="33.00" font-style="italic" fill="#ff00ff" stroke="#ff00ff">MeV</text>
<text x="454.85" y="164.50" font-size="33.00" font-style="italic" fill="#ff8000" stroke="#ff8000">m</text>
<text x="485.27" y="170.50" font-size="23.00" font-style="italic" fill="#ff8000" stroke="#ff8000">χ</text>
<text x="510.41" y="167.30" font-size="33.00" font-style="italic" fill="#ff8000" stroke="#ff8000">=</text>
<text x="542.53" y="164.50" font-size="33.00" font-style="italic" fill="#ff8000" stroke="#ff8000">8</text>
<text x="569.88" y="164.50" font-size="33.00" font-style="italic" fill="#ff8000" stroke="#ff8000">MeV</text>
<text x="657.30" y="258.60" font-size="40.00" fill="#808080" stroke="#808080">Ω</text>
<text x="693.34" y="258.60" font-size="40.00" font-style="italic" fill="#808080" stroke="#808080">h</text>
<text x="718.26" y="239.70" font-size="27.50" font-style="italic" fill="#808080" stroke="#808080">2</text>
<text x="743.26" y="261.60" font-size="40.00" font-style="italic" fill="#808080" stroke="#808080">=</text>
<text x="781.16" y="258.60" font-size="40.00" font-style="italic" fill="#808080" stroke="#808080">0.12</text>
<text transform="translate(286.20,551.40) scale(1.070,1)" font-size="34.50" font-style="italic" fill="#ff0000" stroke="#ff0000">X</text>
<text x="312.03" y="557.80" font-size="22.00" font-style="italic" fill="#ff0000" stroke="#ff0000">17</text>
<g clip-path="url(#c)" fill="none">
<path d="M269.67 61.50 L269.67 581.30" stroke="#ff0000" stroke-width="2.3"/>
<path d="M126.70 264.28 L967.70 264.28" stroke="#808080" stroke-width="3.50"/>
</g>
<path d="M126.70 61.50 H967.70 V581.30 H126.70 Z M126.70 581.30 v-8.30 M126.70 61.50 v3.60 M168.75 581.30 v-4.30 M168.75 61.50 v2.00 M210.80 581.30 v-4.30 M210.80 61.50 v2.00 M252.85 581.30 v-4.30 M252.85 61.50 v2.00 M294.90 581.30 v-8.30 M294.90 61.50 v3.60 M336.95 581.30 v-4.30 M336.95 61.50 v2.00 M379.00 581.30 v-4.30 M379.00 61.50 v2.00 M421.05 581.30 v-4.30 M421.05 61.50 v2.00 M463.10 581.30 v-8.30 M463.10 61.50 v3.60 M505.15 581.30 v-4.30 M505.15 61.50 v2.00 M547.20 581.30 v-4.30 M547.20 61.50 v2.00 M589.25 581.30 v-4.30 M589.25 61.50 v2.00 M631.30 581.30 v-8.30 M631.30 61.50 v3.60 M673.35 581.30 v-4.30 M673.35 61.50 v2.00 M715.40 581.30 v-4.30 M715.40 61.50 v2.00 M757.45 581.30 v-4.30 M757.45 61.50 v2.00 M799.50 581.30 v-8.30 M799.50 61.50 v3.60 M841.55 581.30 v-4.30 M841.55 61.50 v2.00 M883.60 581.30 v-4.30 M883.60 61.50 v2.00 M925.65 581.30 v-4.30 M925.65 61.50 v2.00 M967.70 581.30 v-8.30 M967.70 61.50 v3.60 M126.70 581.30 h8.30 M967.70 581.30 h-8.30 M126.70 515.28 h4.30 M967.70 515.28 h-4.30 M126.70 459.46 h4.30 M967.70 459.46 h-4.30 M126.70 411.10 h4.30 M967.70 411.10 h-4.30 M126.70 368.45 h4.30 M967.70 368.45 h-4.30 M126.70 330.30 h8.30 M967.70 330.30 h-8.30 M126.70 295.79 h4.30 M967.70 295.79 h-4.30 M126.70 264.28 h4.30 M967.70 264.28 h-4.30 M126.70 235.29 h4.30 M967.70 235.29 h-4.30 M126.70 208.46 h4.30 M967.70 208.46 h-4.30 M126.70 183.47 h8.30 M967.70 183.47 h-8.30 M126.70 160.10 h4.30 M967.70 160.10 h-4.30 M126.70 138.15 h4.30 M967.70 138.15 h-4.30 M126.70 117.45 h4.30 M967.70 117.45 h-4.30 M126.70 97.87 h4.30 M967.70 97.87 h-4.30 M126.70 79.30 h8.30 M967.70 79.30 h-8.30 M126.70 61.63 h4.30 M967.70 61.63 h-4.30" fill="none" stroke="#565656" stroke-width="0.8"/>
<text transform="translate(126.70,614.1) scale(0.9662,1)" font-size="34.15" text-anchor="middle" stroke="#000">0</text>
<text transform="translate(294.90,614.1) scale(0.9662,1)" font-size="34.15" text-anchor="middle" stroke="#000">20</text>
<text transform="translate(463.10,614.1) scale(0.9662,1)" font-size="34.15" text-anchor="middle" stroke="#000">40</text>
<text transform="translate(631.30,614.1) scale(0.9662,1)" font-size="34.15" text-anchor="middle" stroke="#000">60</text>
<text transform="translate(799.50,614.1) scale(0.9662,1)" font-size="34.15" text-anchor="middle" stroke="#000">80</text>
<text transform="translate(967.70,614.1) scale(0.9662,1)" font-size="34.15" text-anchor="middle" stroke="#000">100</text>
<text transform="translate(124.3,593.20) scale(0.9662,1)" font-size="34.15" text-anchor="end" stroke="#000">0.05</text>
<text transform="translate(124.3,342.20) scale(0.9662,1)" font-size="34.15" text-anchor="end" stroke="#000">0.10</text>
<text transform="translate(124.3,195.37) scale(0.9662,1)" font-size="34.15" text-anchor="end" stroke="#000">0.15</text>
<text transform="translate(124.3,91.20) scale(0.9662,1)" font-size="34.15" text-anchor="end" stroke="#000">0.20</text>
<text x="391.61" y="45.20" font-size="46.00" font-style="italic" stroke="#000">g</text>
<text x="419.46" y="53.50" font-size="31.00" font-style="italic" stroke="#000">χ</text>
<text x="450.55" y="49.20" font-size="46.00" stroke="#000">=</text>
<text transform="translate(490.40,45.60) scale(0.971,1)" font-size="47.38" stroke="#000">8.5</text>
<text x="562.61" y="48.80" font-size="46.00" stroke="#000">×</text>
<text transform="translate(597.00,45.60) scale(0.971,1)" font-size="47.38" stroke="#000">10</text>
<text x="646.87" y="26.40" font-size="31.00" stroke="#000">−</text>
<text x="668.64" y="23.50" font-size="31.00" stroke="#000">13</text>
<text x="447.74" y="658.60" font-size="46.00" font-style="italic" stroke="#000">m</text>
<text transform="translate(486.77,666.20) scale(1.070,1)" font-size="33.00" font-style="italic" stroke="#000">X</text>
<text x="524.92" y="658.60" font-size="46.00" stroke="#000">[MeV]</text>
<text transform="translate(45.90,367.70) rotate(-90)" font-size="47.00">Ω</text>
<text transform="translate(45.90,320.46) rotate(-90)" font-size="47.00">h</text>
<text transform="translate(23.90,293.26) rotate(-90)" font-size="33.00">2</text>
</svg></body></html>
